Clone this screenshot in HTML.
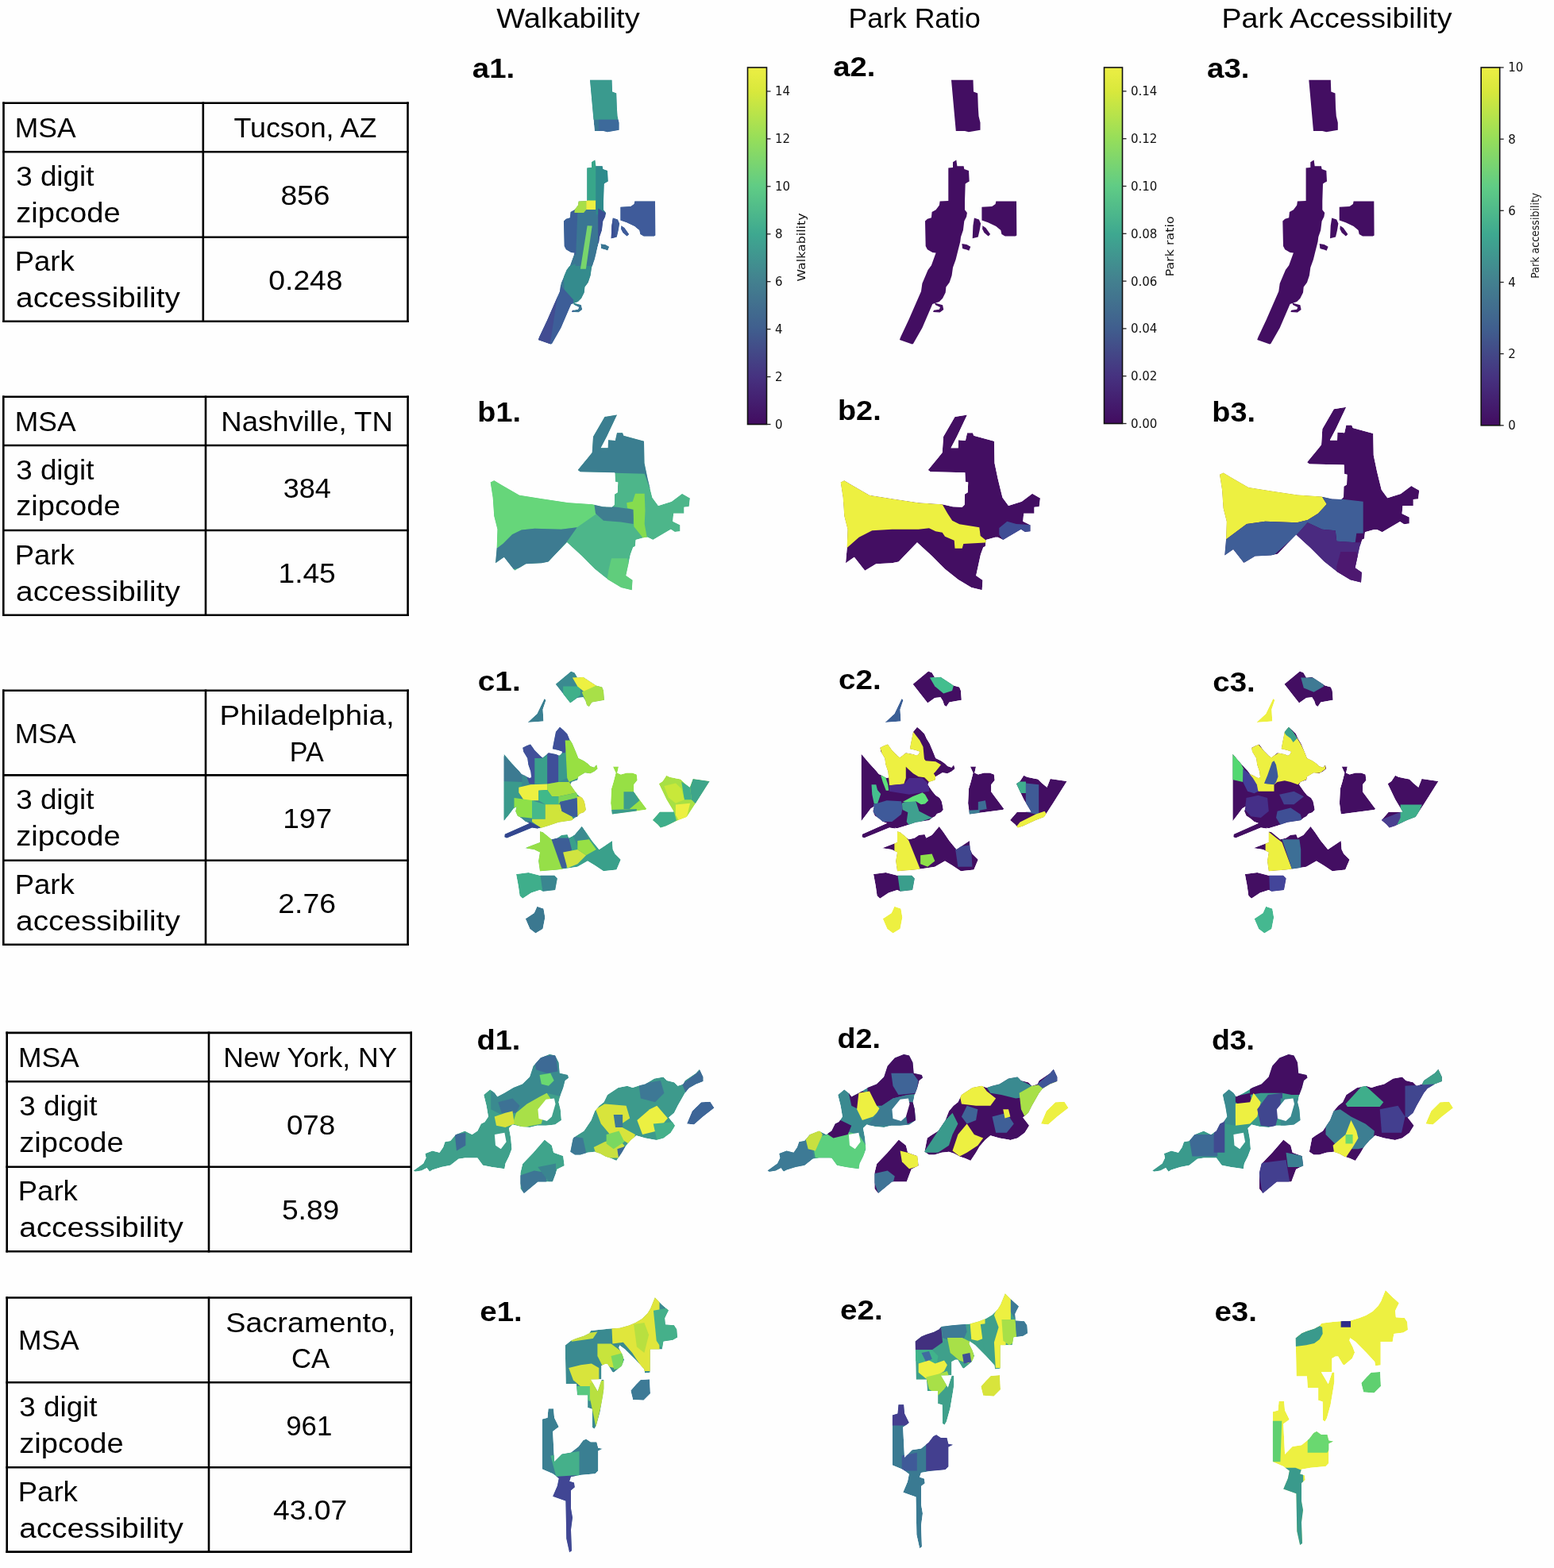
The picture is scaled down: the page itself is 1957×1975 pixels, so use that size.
<!DOCTYPE html>
<html><head><meta charset="utf-8"><title>Figure</title>
<style>html,body{margin:0;padding:0;background:#fefefe;} svg{display:block;}</style>
</head><body>
<svg width="1957" height="1975" viewBox="0 0 1957 1975" font-family="'Liberation Sans', Arial, sans-serif"><rect x="0" y="0" width="1957" height="1975" fill="#fefefe"/><text x="625.3" y="35.3" font-size="35" font-weight="normal" text-anchor="start" textLength="180.4" lengthAdjust="spacingAndGlyphs" >Walkability</text>
<text x="1068.5" y="35.0" font-size="35" font-weight="normal" text-anchor="start" textLength="166.3" lengthAdjust="spacingAndGlyphs" >Park Ratio</text>
<text x="1538.5" y="35.3" font-size="35" font-weight="normal" text-anchor="start" textLength="290.1" lengthAdjust="spacingAndGlyphs" >Park Accessibility</text>
<line x1="3.2" y1="129.8" x2="514.8" y2="129.8" stroke="#000" stroke-width="2.6"/>
<line x1="3.2" y1="191.3" x2="514.8" y2="191.3" stroke="#000" stroke-width="2.6"/>
<line x1="3.2" y1="298.8" x2="514.8" y2="298.8" stroke="#000" stroke-width="2.6"/>
<line x1="3.2" y1="404.8" x2="514.8" y2="404.8" stroke="#000" stroke-width="2.6"/>
<line x1="4.5" y1="128.5" x2="4.5" y2="406.1" stroke="#000" stroke-width="2.6"/>
<line x1="255.8" y1="128.5" x2="255.8" y2="406.1" stroke="#000" stroke-width="2.6"/>
<line x1="513.5" y1="128.5" x2="513.5" y2="406.1" stroke="#000" stroke-width="2.6"/>
<text x="18.8" y="173.1" font-size="35.5" font-weight="normal" text-anchor="start" textLength="76.8" lengthAdjust="spacingAndGlyphs" >MSA</text>
<text x="294.4" y="173.1" font-size="35.5" font-weight="normal" text-anchor="start" textLength="179.9" lengthAdjust="spacingAndGlyphs" >Tucson, AZ</text>
<text x="20.2" y="234.2" font-size="35.5" font-weight="normal" text-anchor="start" textLength="98.2" lengthAdjust="spacingAndGlyphs" >3 digit</text>
<text x="20.2" y="279.9" font-size="35.5" font-weight="normal" text-anchor="start" textLength="131.5" lengthAdjust="spacingAndGlyphs" >zipcode</text>
<text x="353.4" y="257.9" font-size="35.5" font-weight="normal" text-anchor="start" textLength="62.2" lengthAdjust="spacingAndGlyphs" >856</text>
<text x="18.7" y="341.0" font-size="35.5" font-weight="normal" text-anchor="start" textLength="75.0" lengthAdjust="spacingAndGlyphs" >Park</text>
<text x="20.1" y="387.2" font-size="35.5" font-weight="normal" text-anchor="start" textLength="206.7" lengthAdjust="spacingAndGlyphs" >accessibility</text>
<text x="338.3" y="364.7" font-size="35.5" font-weight="normal" text-anchor="start" textLength="93.3" lengthAdjust="spacingAndGlyphs" >0.248</text>
<line x1="3.0" y1="499.8" x2="514.9" y2="499.8" stroke="#000" stroke-width="2.6"/>
<line x1="3.0" y1="561.0" x2="514.9" y2="561.0" stroke="#000" stroke-width="2.6"/>
<line x1="3.0" y1="668.0" x2="514.9" y2="668.0" stroke="#000" stroke-width="2.6"/>
<line x1="3.0" y1="774.8" x2="514.9" y2="774.8" stroke="#000" stroke-width="2.6"/>
<line x1="4.3" y1="498.5" x2="4.3" y2="776.1" stroke="#000" stroke-width="2.6"/>
<line x1="259.0" y1="498.5" x2="259.0" y2="776.1" stroke="#000" stroke-width="2.6"/>
<line x1="513.6" y1="498.5" x2="513.6" y2="776.1" stroke="#000" stroke-width="2.6"/>
<text x="18.8" y="542.9" font-size="35.5" font-weight="normal" text-anchor="start" textLength="76.8" lengthAdjust="spacingAndGlyphs" >MSA</text>
<text x="278.3" y="542.9" font-size="35.5" font-weight="normal" text-anchor="start" textLength="216.5" lengthAdjust="spacingAndGlyphs" >Nashville, TN</text>
<text x="20.2" y="603.7" font-size="35.5" font-weight="normal" text-anchor="start" textLength="98.2" lengthAdjust="spacingAndGlyphs" >3 digit</text>
<text x="20.2" y="649.4" font-size="35.5" font-weight="normal" text-anchor="start" textLength="131.5" lengthAdjust="spacingAndGlyphs" >zipcode</text>
<text x="356.8" y="627.4" font-size="35.5" font-weight="normal" text-anchor="start" textLength="60.1" lengthAdjust="spacingAndGlyphs" >384</text>
<text x="18.7" y="710.6" font-size="35.5" font-weight="normal" text-anchor="start" textLength="75.0" lengthAdjust="spacingAndGlyphs" >Park</text>
<text x="20.1" y="756.8" font-size="35.5" font-weight="normal" text-anchor="start" textLength="206.7" lengthAdjust="spacingAndGlyphs" >accessibility</text>
<text x="350.5" y="734.3" font-size="35.5" font-weight="normal" text-anchor="start" textLength="72.2" lengthAdjust="spacingAndGlyphs" >1.45</text>
<line x1="3.0" y1="869.8" x2="514.9" y2="869.8" stroke="#000" stroke-width="2.6"/>
<line x1="3.0" y1="976.4" x2="514.9" y2="976.4" stroke="#000" stroke-width="2.6"/>
<line x1="3.0" y1="1083.7" x2="514.9" y2="1083.7" stroke="#000" stroke-width="2.6"/>
<line x1="3.0" y1="1189.7" x2="514.9" y2="1189.7" stroke="#000" stroke-width="2.6"/>
<line x1="4.3" y1="868.5" x2="4.3" y2="1191.0" stroke="#000" stroke-width="2.6"/>
<line x1="259.0" y1="868.5" x2="259.0" y2="1191.0" stroke="#000" stroke-width="2.6"/>
<line x1="513.6" y1="868.5" x2="513.6" y2="1191.0" stroke="#000" stroke-width="2.6"/>
<text x="18.8" y="935.6" font-size="35.5" font-weight="normal" text-anchor="start" textLength="76.8" lengthAdjust="spacingAndGlyphs" >MSA</text>
<text x="276.5" y="912.9" font-size="35.5" font-weight="normal" text-anchor="start" textLength="220.1" lengthAdjust="spacingAndGlyphs" >Philadelphia,</text>
<text x="364.8" y="958.6" font-size="35.5" font-weight="normal" text-anchor="start" textLength="43.0" lengthAdjust="spacingAndGlyphs" >PA</text>
<text x="20.2" y="1019.2" font-size="35.5" font-weight="normal" text-anchor="start" textLength="98.2" lengthAdjust="spacingAndGlyphs" >3 digit</text>
<text x="20.2" y="1065.0" font-size="35.5" font-weight="normal" text-anchor="start" textLength="131.5" lengthAdjust="spacingAndGlyphs" >zipcode</text>
<text x="356.2" y="1043.0" font-size="35.5" font-weight="normal" text-anchor="start" textLength="61.9" lengthAdjust="spacingAndGlyphs" >197</text>
<text x="18.7" y="1125.9" font-size="35.5" font-weight="normal" text-anchor="start" textLength="75.0" lengthAdjust="spacingAndGlyphs" >Park</text>
<text x="20.1" y="1172.1" font-size="35.5" font-weight="normal" text-anchor="start" textLength="206.7" lengthAdjust="spacingAndGlyphs" >accessibility</text>
<text x="350.3" y="1149.6" font-size="35.5" font-weight="normal" text-anchor="start" textLength="72.7" lengthAdjust="spacingAndGlyphs" >2.76</text>
<line x1="7.4" y1="1300.9" x2="519.0" y2="1300.9" stroke="#000" stroke-width="2.6"/>
<line x1="7.4" y1="1362.3" x2="519.0" y2="1362.3" stroke="#000" stroke-width="2.6"/>
<line x1="7.4" y1="1469.7" x2="519.0" y2="1469.7" stroke="#000" stroke-width="2.6"/>
<line x1="7.4" y1="1576.2" x2="519.0" y2="1576.2" stroke="#000" stroke-width="2.6"/>
<line x1="8.7" y1="1299.6" x2="8.7" y2="1577.5" stroke="#000" stroke-width="2.6"/>
<line x1="263.0" y1="1299.6" x2="263.0" y2="1577.5" stroke="#000" stroke-width="2.6"/>
<line x1="517.7" y1="1299.6" x2="517.7" y2="1577.5" stroke="#000" stroke-width="2.6"/>
<text x="22.9" y="1344.1" font-size="35.5" font-weight="normal" text-anchor="start" textLength="76.8" lengthAdjust="spacingAndGlyphs" >MSA</text>
<text x="281.2" y="1344.1" font-size="35.5" font-weight="normal" text-anchor="start" textLength="219.1" lengthAdjust="spacingAndGlyphs" >New York, NY</text>
<text x="24.3" y="1405.2" font-size="35.5" font-weight="normal" text-anchor="start" textLength="98.2" lengthAdjust="spacingAndGlyphs" >3 digit</text>
<text x="24.3" y="1450.9" font-size="35.5" font-weight="normal" text-anchor="start" textLength="131.5" lengthAdjust="spacingAndGlyphs" >zipcode</text>
<text x="360.9" y="1428.9" font-size="35.5" font-weight="normal" text-anchor="start" textLength="61.3" lengthAdjust="spacingAndGlyphs" >078</text>
<text x="22.8" y="1512.2" font-size="35.5" font-weight="normal" text-anchor="start" textLength="75.0" lengthAdjust="spacingAndGlyphs" >Park</text>
<text x="24.2" y="1558.4" font-size="35.5" font-weight="normal" text-anchor="start" textLength="206.7" lengthAdjust="spacingAndGlyphs" >accessibility</text>
<text x="354.9" y="1535.9" font-size="35.5" font-weight="normal" text-anchor="start" textLength="72.4" lengthAdjust="spacingAndGlyphs" >5.89</text>
<line x1="7.4" y1="1634.5" x2="519.0" y2="1634.5" stroke="#000" stroke-width="2.6"/>
<line x1="7.4" y1="1741.3" x2="519.0" y2="1741.3" stroke="#000" stroke-width="2.6"/>
<line x1="7.4" y1="1848.3" x2="519.0" y2="1848.3" stroke="#000" stroke-width="2.6"/>
<line x1="7.4" y1="1954.6" x2="519.0" y2="1954.6" stroke="#000" stroke-width="2.6"/>
<line x1="8.7" y1="1633.2" x2="8.7" y2="1955.9" stroke="#000" stroke-width="2.6"/>
<line x1="263.0" y1="1633.2" x2="263.0" y2="1955.9" stroke="#000" stroke-width="2.6"/>
<line x1="517.7" y1="1633.2" x2="517.7" y2="1955.9" stroke="#000" stroke-width="2.6"/>
<text x="22.9" y="1700.4" font-size="35.5" font-weight="normal" text-anchor="start" textLength="76.8" lengthAdjust="spacingAndGlyphs" >MSA</text>
<text x="284.2" y="1677.7" font-size="35.5" font-weight="normal" text-anchor="start" textLength="214.3" lengthAdjust="spacingAndGlyphs" >Sacramento,</text>
<text x="366.9" y="1723.4" font-size="35.5" font-weight="normal" text-anchor="start" textLength="48.1" lengthAdjust="spacingAndGlyphs" >CA</text>
<text x="24.3" y="1784.0" font-size="35.5" font-weight="normal" text-anchor="start" textLength="98.2" lengthAdjust="spacingAndGlyphs" >3 digit</text>
<text x="24.3" y="1829.7" font-size="35.5" font-weight="normal" text-anchor="start" textLength="131.5" lengthAdjust="spacingAndGlyphs" >zipcode</text>
<text x="360.2" y="1807.7" font-size="35.5" font-weight="normal" text-anchor="start" textLength="58.1" lengthAdjust="spacingAndGlyphs" >961</text>
<text x="22.8" y="1890.6" font-size="35.5" font-weight="normal" text-anchor="start" textLength="75.0" lengthAdjust="spacingAndGlyphs" >Park</text>
<text x="24.2" y="1936.8" font-size="35.5" font-weight="normal" text-anchor="start" textLength="206.7" lengthAdjust="spacingAndGlyphs" >accessibility</text>
<text x="344.0" y="1914.3" font-size="35.5" font-weight="normal" text-anchor="start" textLength="93.3" lengthAdjust="spacingAndGlyphs" >43.07</text>
<text x="594.8" y="97.6" font-size="35" font-weight="bold" text-anchor="start" textLength="53.4" lengthAdjust="spacingAndGlyphs" >a1.</text>
<text x="1049.3" y="95.8" font-size="35" font-weight="bold" text-anchor="start" textLength="53.1" lengthAdjust="spacingAndGlyphs" >a2.</text>
<text x="1520.1" y="97.6" font-size="35" font-weight="bold" text-anchor="start" textLength="53.3" lengthAdjust="spacingAndGlyphs" >a3.</text>
<text x="601.3" y="531.3" font-size="35" font-weight="bold" text-anchor="start" textLength="54.6" lengthAdjust="spacingAndGlyphs" >b1.</text>
<text x="1055.0" y="529.4" font-size="35" font-weight="bold" text-anchor="start" textLength="54.7" lengthAdjust="spacingAndGlyphs" >b2.</text>
<text x="1526.3" y="531.3" font-size="35" font-weight="bold" text-anchor="start" textLength="54.7" lengthAdjust="spacingAndGlyphs" >b3.</text>
<text x="601.8" y="870.0" font-size="35" font-weight="bold" text-anchor="start" textLength="53.9" lengthAdjust="spacingAndGlyphs" >c1.</text>
<text x="1056.0" y="868.4" font-size="35" font-weight="bold" text-anchor="start" textLength="53.6" lengthAdjust="spacingAndGlyphs" >c2.</text>
<text x="1527.3" y="870.5" font-size="35" font-weight="bold" text-anchor="start" textLength="53.5" lengthAdjust="spacingAndGlyphs" >c3.</text>
<text x="600.4" y="1321.6" font-size="35" font-weight="bold" text-anchor="start" textLength="55.0" lengthAdjust="spacingAndGlyphs" >d1.</text>
<text x="1054.6" y="1320.0" font-size="35" font-weight="bold" text-anchor="start" textLength="54.4" lengthAdjust="spacingAndGlyphs" >d2.</text>
<text x="1525.9" y="1321.5" font-size="35" font-weight="bold" text-anchor="start" textLength="54.1" lengthAdjust="spacingAndGlyphs" >d3.</text>
<text x="604.2" y="1663.7" font-size="35" font-weight="bold" text-anchor="start" textLength="53.6" lengthAdjust="spacingAndGlyphs" >e1.</text>
<text x="1058.1" y="1661.8" font-size="35" font-weight="bold" text-anchor="start" textLength="53.6" lengthAdjust="spacingAndGlyphs" >e2.</text>
<text x="1529.4" y="1663.6" font-size="35" font-weight="bold" text-anchor="start" textLength="53.5" lengthAdjust="spacingAndGlyphs" >e3.</text>
<defs><linearGradient id="vir" x1="0" y1="0" x2="0" y2="1"><stop offset="0" stop-color="#ecee44"/><stop offset="0.067" stop-color="#d8e83c"/><stop offset="0.2" stop-color="#96de5a"/><stop offset="0.333" stop-color="#60cc85"/><stop offset="0.467" stop-color="#3ea890"/><stop offset="0.6" stop-color="#43808f"/><stop offset="0.733" stop-color="#405e8e"/><stop offset="0.867" stop-color="#463280"/><stop offset="1.0" stop-color="#420c60"/></linearGradient></defs>
<rect x="941.5" y="85.0" width="24.0" height="449.5" fill="url(#vir)" stroke="#111" stroke-width="1.6"/>
<line x1="965.5" y1="534.5" x2="970.5" y2="534.5" stroke="#222" stroke-width="1.3"/>
<text x="976.0" y="539.9" font-size="15" font-weight="normal" text-anchor="start" font-family="DejaVu Sans, sans-serif" fill="#111">0</text>
<line x1="965.5" y1="474.6" x2="970.5" y2="474.6" stroke="#222" stroke-width="1.3"/>
<text x="976.0" y="480.0" font-size="15" font-weight="normal" text-anchor="start" font-family="DejaVu Sans, sans-serif" fill="#111">2</text>
<line x1="965.5" y1="414.6" x2="970.5" y2="414.6" stroke="#222" stroke-width="1.3"/>
<text x="976.0" y="420.0" font-size="15" font-weight="normal" text-anchor="start" font-family="DejaVu Sans, sans-serif" fill="#111">4</text>
<line x1="965.5" y1="354.7" x2="970.5" y2="354.7" stroke="#222" stroke-width="1.3"/>
<text x="976.0" y="360.1" font-size="15" font-weight="normal" text-anchor="start" font-family="DejaVu Sans, sans-serif" fill="#111">6</text>
<line x1="965.5" y1="294.8" x2="970.5" y2="294.8" stroke="#222" stroke-width="1.3"/>
<text x="976.0" y="300.2" font-size="15" font-weight="normal" text-anchor="start" font-family="DejaVu Sans, sans-serif" fill="#111">8</text>
<line x1="965.5" y1="234.8" x2="970.5" y2="234.8" stroke="#222" stroke-width="1.3"/>
<text x="976.0" y="240.2" font-size="15" font-weight="normal" text-anchor="start" font-family="DejaVu Sans, sans-serif" fill="#111">10</text>
<line x1="965.5" y1="174.9" x2="970.5" y2="174.9" stroke="#222" stroke-width="1.3"/>
<text x="976.0" y="180.3" font-size="15" font-weight="normal" text-anchor="start" font-family="DejaVu Sans, sans-serif" fill="#111">12</text>
<line x1="965.5" y1="115.0" x2="970.5" y2="115.0" stroke="#222" stroke-width="1.3"/>
<text x="976.0" y="120.4" font-size="15" font-weight="normal" text-anchor="start" font-family="DejaVu Sans, sans-serif" fill="#111">14</text>
<text x="0" y="0" font-size="14" font-family="DejaVu Sans, sans-serif" fill="#111" text-anchor="middle" textLength="86" lengthAdjust="spacingAndGlyphs" transform="translate(1013.5,311.5) rotate(-90)">Walkability</text>
<rect x="1390.5" y="85.0" width="23.0" height="448.5" fill="url(#vir)" stroke="#111" stroke-width="1.6"/>
<line x1="1413.5" y1="533.5" x2="1418.5" y2="533.5" stroke="#222" stroke-width="1.3"/>
<text x="1424.0" y="538.9" font-size="15" font-weight="normal" text-anchor="start" font-family="DejaVu Sans, sans-serif" fill="#111">0.00</text>
<line x1="1413.5" y1="473.7" x2="1418.5" y2="473.7" stroke="#222" stroke-width="1.3"/>
<text x="1424.0" y="479.1" font-size="15" font-weight="normal" text-anchor="start" font-family="DejaVu Sans, sans-serif" fill="#111">0.02</text>
<line x1="1413.5" y1="413.9" x2="1418.5" y2="413.9" stroke="#222" stroke-width="1.3"/>
<text x="1424.0" y="419.3" font-size="15" font-weight="normal" text-anchor="start" font-family="DejaVu Sans, sans-serif" fill="#111">0.04</text>
<line x1="1413.5" y1="354.1" x2="1418.5" y2="354.1" stroke="#222" stroke-width="1.3"/>
<text x="1424.0" y="359.5" font-size="15" font-weight="normal" text-anchor="start" font-family="DejaVu Sans, sans-serif" fill="#111">0.06</text>
<line x1="1413.5" y1="294.3" x2="1418.5" y2="294.3" stroke="#222" stroke-width="1.3"/>
<text x="1424.0" y="299.7" font-size="15" font-weight="normal" text-anchor="start" font-family="DejaVu Sans, sans-serif" fill="#111">0.08</text>
<line x1="1413.5" y1="234.5" x2="1418.5" y2="234.5" stroke="#222" stroke-width="1.3"/>
<text x="1424.0" y="239.9" font-size="15" font-weight="normal" text-anchor="start" font-family="DejaVu Sans, sans-serif" fill="#111">0.10</text>
<line x1="1413.5" y1="174.7" x2="1418.5" y2="174.7" stroke="#222" stroke-width="1.3"/>
<text x="1424.0" y="180.1" font-size="15" font-weight="normal" text-anchor="start" font-family="DejaVu Sans, sans-serif" fill="#111">0.12</text>
<line x1="1413.5" y1="114.9" x2="1418.5" y2="114.9" stroke="#222" stroke-width="1.3"/>
<text x="1424.0" y="120.3" font-size="15" font-weight="normal" text-anchor="start" font-family="DejaVu Sans, sans-serif" fill="#111">0.14</text>
<text x="0" y="0" font-size="14" font-family="DejaVu Sans, sans-serif" fill="#111" text-anchor="middle" textLength="76" lengthAdjust="spacingAndGlyphs" transform="translate(1478,310.3) rotate(-90)">Park ratio</text>
<rect x="1865.2" y="85.0" width="23.5" height="450.79999999999995" fill="url(#vir)" stroke="#111" stroke-width="1.6"/>
<line x1="1888.7" y1="535.8" x2="1893.7" y2="535.8" stroke="#222" stroke-width="1.3"/>
<text x="1899.2" y="541.2" font-size="15" font-weight="normal" text-anchor="start" font-family="DejaVu Sans, sans-serif" fill="#111">0</text>
<line x1="1888.7" y1="445.6" x2="1893.7" y2="445.6" stroke="#222" stroke-width="1.3"/>
<text x="1899.2" y="451.0" font-size="15" font-weight="normal" text-anchor="start" font-family="DejaVu Sans, sans-serif" fill="#111">2</text>
<line x1="1888.7" y1="355.5" x2="1893.7" y2="355.5" stroke="#222" stroke-width="1.3"/>
<text x="1899.2" y="360.9" font-size="15" font-weight="normal" text-anchor="start" font-family="DejaVu Sans, sans-serif" fill="#111">4</text>
<line x1="1888.7" y1="265.3" x2="1893.7" y2="265.3" stroke="#222" stroke-width="1.3"/>
<text x="1899.2" y="270.7" font-size="15" font-weight="normal" text-anchor="start" font-family="DejaVu Sans, sans-serif" fill="#111">6</text>
<line x1="1888.7" y1="175.2" x2="1893.7" y2="175.2" stroke="#222" stroke-width="1.3"/>
<text x="1899.2" y="180.6" font-size="15" font-weight="normal" text-anchor="start" font-family="DejaVu Sans, sans-serif" fill="#111">8</text>
<line x1="1888.7" y1="85.0" x2="1893.7" y2="85.0" stroke="#222" stroke-width="1.3"/>
<text x="1899.2" y="90.4" font-size="15" font-weight="normal" text-anchor="start" font-family="DejaVu Sans, sans-serif" fill="#111">10</text>
<text x="0" y="0" font-size="14" font-family="DejaVu Sans, sans-serif" fill="#111" text-anchor="middle" textLength="108" lengthAdjust="spacingAndGlyphs" transform="translate(1937.7,296.7) rotate(-90)">Park accessibility</text>
<path d="M1198.0,100.8 1225.5,100.8 1226.0,115.5 1231.2,117.5 1231.8,135.0 1232.5,146.2 1234.5,154.5 1234.5,163.8 1220.0,166.2 1215.0,165.0 1203.8,165.0ZM1200.0,204.3 1204.3,201.4 1205.4,209.3 1213.6,209.3 1214.3,212.9 1220.0,215.0 1220.7,228.6 1217.9,230.0 1215.7,231.4 1215.0,252.9 1215.0,264.3 1217.9,267.9 1217.1,272.9 1214.3,278.6 1212.9,290.0 1210.0,298.6 1209.3,304.3 1207.1,312.9 1205.7,318.6 1203.6,327.1 1200.0,337.1 1198.6,347.1 1195.7,355.7 1191.4,361.4 1190.7,368.6 1187.1,375.7 1182.9,380.0 1174.3,382.9 1161.4,412.9 1150.0,432.9 1148.6,433.6 1132.9,427.9 1134.3,424.3 1144.3,402.9 1160.0,367.1 1161.4,357.1 1168.6,340.0 1172.9,334.3 1178.6,318.6 1174.3,317.9 1167.9,314.3 1165.7,310.0 1165.0,278.6 1167.9,275.7 1172.9,274.3 1173.6,267.1 1178.6,264.3 1182.9,258.6 1183.6,253.6 1194.3,252.9 1194.3,211.4 1200.0,211.1ZM1177.1,381.4 1187.1,384.3 1188.3,390.0 1183.6,393.6 1175.0,393.1 1176.0,390.7 1182.9,389.7 1184.0,386.9 1177.9,384.0ZM1236.4,260.7 1249.3,260.0 1253.6,257.1 1254.3,253.6 1280.0,253.6 1280.3,296.4 1278.6,297.4 1265.7,297.4 1261.4,295.0 1260.3,290.0 1254.3,285.0 1244.3,280.3 1236.4,277.4ZM1226.9,274.6 1232.9,276.4 1235.1,281.4 1233.7,290.0 1231.7,298.6 1224.7,300.3 1225.4,284.3ZM1237.4,284.3 1241.4,287.1 1247.1,295.0 1244.6,297.4 1239.4,293.1 1237.1,288.6ZM1211.4,307.1 1217.4,307.9 1222.3,310.7 1220.3,315.7 1217.4,314.6 1214.3,313.7 1212.1,313.1Z" fill="#430e62"/>
<path d="M1648.3,100.8 1675.8,100.8 1676.3,115.5 1681.5,117.5 1682.0,135.0 1682.8,146.2 1684.8,154.5 1684.8,163.8 1670.3,166.2 1665.3,165.0 1654.0,165.0ZM1650.3,204.3 1654.6,201.4 1655.7,209.3 1663.9,209.3 1664.6,212.9 1670.3,215.0 1671.0,228.6 1668.2,230.0 1666.0,231.4 1665.3,252.9 1665.3,264.3 1668.2,267.9 1667.4,272.9 1664.6,278.6 1663.2,290.0 1660.3,298.6 1659.6,304.3 1657.4,312.9 1656.0,318.6 1653.9,327.1 1650.3,337.1 1648.9,347.1 1646.0,355.7 1641.7,361.4 1641.0,368.6 1637.4,375.7 1633.2,380.0 1624.6,382.9 1611.7,412.9 1600.3,432.9 1598.9,433.6 1583.2,427.9 1584.6,424.3 1594.6,402.9 1610.3,367.1 1611.7,357.1 1618.9,340.0 1623.2,334.3 1628.9,318.6 1624.6,317.9 1618.2,314.3 1616.0,310.0 1615.3,278.6 1618.2,275.7 1623.2,274.3 1623.9,267.1 1628.9,264.3 1633.2,258.6 1633.9,253.6 1644.6,252.9 1644.6,211.4 1650.3,211.1ZM1627.4,381.4 1637.4,384.3 1638.6,390.0 1633.9,393.6 1625.3,393.1 1626.3,390.7 1633.2,389.7 1634.3,386.9 1628.2,384.0ZM1686.7,260.7 1699.6,260.0 1703.9,257.1 1704.6,253.6 1730.3,253.6 1730.6,296.4 1728.9,297.4 1716.0,297.4 1711.7,295.0 1710.6,290.0 1704.6,285.0 1694.6,280.3 1686.7,277.4ZM1677.2,274.6 1683.2,276.4 1685.4,281.4 1684.0,290.0 1682.0,298.6 1675.0,300.3 1675.7,284.3ZM1687.7,284.3 1691.7,287.1 1697.4,295.0 1694.9,297.4 1689.7,293.1 1687.4,288.6ZM1661.7,307.1 1667.7,307.9 1672.6,310.7 1670.6,315.7 1667.7,314.6 1664.6,313.7 1662.4,313.1Z" fill="#430e62"/>
<clipPath id="c1"><path d="M743.0,100.8 770.5,100.8 771.0,115.5 776.2,117.5 776.8,135.0 777.5,146.2 779.5,154.5 779.5,163.8 765.0,166.2 760.0,165.0 748.8,165.0ZM745.0,204.3 749.3,201.4 750.4,209.3 758.6,209.3 759.3,212.9 765.0,215.0 765.7,228.6 762.9,230.0 760.7,231.4 760.0,252.9 760.0,264.3 762.9,267.9 762.1,272.9 759.3,278.6 757.9,290.0 755.0,298.6 754.3,304.3 752.1,312.9 750.7,318.6 748.6,327.1 745.0,337.1 743.6,347.1 740.7,355.7 736.4,361.4 735.7,368.6 732.1,375.7 727.9,380.0 719.3,382.9 706.4,412.9 695.0,432.9 693.6,433.6 677.9,427.9 679.3,424.3 689.3,402.9 705.0,367.1 706.4,357.1 713.6,340.0 717.9,334.3 723.6,318.6 719.3,317.9 712.9,314.3 710.7,310.0 710.0,278.6 712.9,275.7 717.9,274.3 718.6,267.1 723.6,264.3 727.9,258.6 728.6,253.6 739.3,252.9 739.3,211.4 745.0,211.1ZM722.1,381.4 732.1,384.3 733.3,390.0 728.6,393.6 720.0,393.1 721.0,390.7 727.9,389.7 729.0,386.9 722.9,384.0ZM781.4,260.7 794.3,260.0 798.6,257.1 799.3,253.6 825.0,253.6 825.3,296.4 823.6,297.4 810.7,297.4 806.4,295.0 805.3,290.0 799.3,285.0 789.3,280.3 781.4,277.4ZM771.9,274.6 777.9,276.4 780.1,281.4 778.7,290.0 776.7,298.6 769.7,300.3 770.4,284.3ZM782.4,284.3 786.4,287.1 792.1,295.0 789.6,297.4 784.4,293.1 782.1,288.6ZM756.4,307.1 762.4,307.9 767.3,310.7 765.3,315.7 762.4,314.6 759.3,313.7 757.1,313.1Z"/></clipPath>
<g clip-path="url(#c1)">
<path d="M743.0,100.8 770.5,100.8 771.0,115.5 776.2,117.5 776.8,135.0 777.5,146.2 779.5,154.5 779.5,163.8 765.0,166.2 760.0,165.0 748.8,165.0ZM745.0,204.3 749.3,201.4 750.4,209.3 758.6,209.3 759.3,212.9 765.0,215.0 765.7,228.6 762.9,230.0 760.7,231.4 760.0,252.9 760.0,264.3 762.9,267.9 762.1,272.9 759.3,278.6 757.9,290.0 755.0,298.6 754.3,304.3 752.1,312.9 750.7,318.6 748.6,327.1 745.0,337.1 743.6,347.1 740.7,355.7 736.4,361.4 735.7,368.6 732.1,375.7 727.9,380.0 719.3,382.9 706.4,412.9 695.0,432.9 693.6,433.6 677.9,427.9 679.3,424.3 689.3,402.9 705.0,367.1 706.4,357.1 713.6,340.0 717.9,334.3 723.6,318.6 719.3,317.9 712.9,314.3 710.7,310.0 710.0,278.6 712.9,275.7 717.9,274.3 718.6,267.1 723.6,264.3 727.9,258.6 728.6,253.6 739.3,252.9 739.3,211.4 745.0,211.1ZM722.1,381.4 732.1,384.3 733.3,390.0 728.6,393.6 720.0,393.1 721.0,390.7 727.9,389.7 729.0,386.9 722.9,384.0ZM781.4,260.7 794.3,260.0 798.6,257.1 799.3,253.6 825.0,253.6 825.3,296.4 823.6,297.4 810.7,297.4 806.4,295.0 805.3,290.0 799.3,285.0 789.3,280.3 781.4,277.4ZM771.9,274.6 777.9,276.4 780.1,281.4 778.7,290.0 776.7,298.6 769.7,300.3 770.4,284.3ZM782.4,284.3 786.4,287.1 792.1,295.0 789.6,297.4 784.4,293.1 782.1,288.6ZM756.4,307.1 762.4,307.9 767.3,310.7 765.3,315.7 762.4,314.6 759.3,313.7 757.1,313.1Z" fill="#3a7693"/>
<path d="M724.7,332.3 750.6,332.3 750.6,384.1 711.8,384.1 709.2,338.8Z" fill="#348b8d"/>
<path d="M672.9,351.7 698.8,351.7 722.1,377.6 722.1,435.9 672.9,435.9Z" fill="#3d5e98"/>
<path d="M675.5,410.0 693.6,364.7 702.7,368.6 692.3,435.9 672.9,435.9Z" fill="#424c92"/>
<path d="M709.2,262.5 728.6,262.5 729.9,320.7 709.2,320.7Z" fill="#3b5f97"/>
<path d="M727.3,267.6 753.2,267.6 750.6,334.9 724.7,334.9Z" fill="#3a7693"/>
<path d="M737.6,197.8 750.6,197.8 750.6,253.4 737.6,253.4Z" fill="#38a68a"/>
<path d="M750.6,197.8 767.4,197.8 767.4,270.2 750.6,270.2Z" fill="#2e8b8c"/>
<path d="M724.7,253.4 738.4,252.6 738.4,264.0 735.1,267.9 723.4,267.9Z" fill="#a7de48"/>
<path d="M738.2,252.6 750.1,252.6 750.1,264.0 738.2,264.0Z" fill="#edf041"/>
<path d="M739.6,284.2 745.7,284.5 737.9,338.8 730.9,338.8Z" fill="#78d56c"/>
<path d="M766.1,241.8 828.2,241.8 828.2,306.5 766.1,306.5Z" fill="#3f5b9a"/>
<path d="M753.2,262.5 771.3,272.8 776.5,306.5 753.2,306.5Z" fill="#3a4f93"/>
<path d="M729.0,97.3 778.7,97.3 778.7,150.7 729.0,150.7Z" fill="#3a9a8e"/>
<path d="M753.9,150.7 781.2,150.7 781.2,169.3 753.9,169.3Z" fill="#3d6a9b"/>
</g>
<clipPath id="c2"><path d="M1202.5,525.0 1218.0,522.5 1205.0,550.0 1197.5,564.2 1206.7,564.2 1207.0,554.2 1215.8,555.0 1218.0,545.3 1225.0,545.3 1226.3,548.7 1252.0,555.8 1252.5,583.3 1256.7,603.3 1260.0,616.7 1262.5,626.7 1270.0,637.0 1286.7,631.7 1300.0,621.7 1310.0,627.5 1308.7,638.3 1302.5,638.7 1302.5,646.7 1289.2,646.7 1288.3,656.7 1297.5,661.3 1297.5,669.2 1290.8,670.0 1285.8,666.7 1263.3,680.0 1256.7,676.7 1253.3,676.7 1241.7,680.0 1240.8,688.3 1238.3,689.2 1235.0,698.3 1229.2,725.0 1237.5,730.8 1236.7,743.3 1223.3,740.0 1206.7,730.0 1190.0,716.7 1173.3,700.0 1155.0,683.3 1131.7,707.5 1123.3,709.2 1103.3,710.3 1089.2,718.7 1075.8,701.7 1065.0,709.2 1066.7,690.0 1067.5,666.7 1063.3,650.0 1061.7,626.7 1058.7,607.5 1063.3,605.3 1073.3,611.3 1095.0,623.7 1123.3,628.3 1156.7,633.3 1186.7,635.3 1200.0,638.3 1211.7,638.7 1214.7,635.8 1215.0,622.5 1218.7,620.3 1219.2,607.5 1215.8,606.7 1215.3,595.3 1171.7,594.2 1168.7,592.0 1181.7,576.3 1186.7,570.0 1188.0,550.0Z"/></clipPath>
<g clip-path="url(#c2)">
<path d="M1202.5,525.0 1218.0,522.5 1205.0,550.0 1197.5,564.2 1206.7,564.2 1207.0,554.2 1215.8,555.0 1218.0,545.3 1225.0,545.3 1226.3,548.7 1252.0,555.8 1252.5,583.3 1256.7,603.3 1260.0,616.7 1262.5,626.7 1270.0,637.0 1286.7,631.7 1300.0,621.7 1310.0,627.5 1308.7,638.3 1302.5,638.7 1302.5,646.7 1289.2,646.7 1288.3,656.7 1297.5,661.3 1297.5,669.2 1290.8,670.0 1285.8,666.7 1263.3,680.0 1256.7,676.7 1253.3,676.7 1241.7,680.0 1240.8,688.3 1238.3,689.2 1235.0,698.3 1229.2,725.0 1237.5,730.8 1236.7,743.3 1223.3,740.0 1206.7,730.0 1190.0,716.7 1173.3,700.0 1155.0,683.3 1131.7,707.5 1123.3,709.2 1103.3,710.3 1089.2,718.7 1075.8,701.7 1065.0,709.2 1066.7,690.0 1067.5,666.7 1063.3,650.0 1061.7,626.7 1058.7,607.5 1063.3,605.3 1073.3,611.3 1095.0,623.7 1123.3,628.3 1156.7,633.3 1186.7,635.3 1200.0,638.3 1211.7,638.7 1214.7,635.8 1215.0,622.5 1218.7,620.3 1219.2,607.5 1215.8,606.7 1215.3,595.3 1171.7,594.2 1168.7,592.0 1181.7,576.3 1186.7,570.0 1188.0,550.0Z" fill="#430e62"/>
<path d="M1050.0,600.0 1063.3,605.3 1073.3,611.3 1095.0,623.7 1123.3,628.3 1156.7,633.3 1186.7,635.3 1193.3,646.7 1199.2,655.8 1208.3,660.3 1233.3,664.2 1234.7,675.0 1245.0,683.3 1213.3,685.0 1211.7,690.8 1202.5,690.8 1201.7,680.8 1190.0,675.8 1186.7,670.8 1178.3,669.2 1170.0,665.3 1156.7,666.7 1123.3,666.7 1098.3,668.3 1081.7,676.7 1066.7,690.0 1050.0,691.7Z" fill="#edf041"/>
<path d="M1258.3,665.0 1268.3,656.7 1280.0,660.0 1300.0,661.3 1300.0,670.0 1290.8,670.8 1285.0,667.5 1263.3,680.8 1258.3,673.3Z" fill="#3f4d95"/>
</g>
<clipPath id="c3"><path d="M761.5,525.0 777.0,522.5 764.0,550.0 756.5,564.2 765.7,564.2 766.0,554.2 774.8,555.0 777.0,545.3 784.0,545.3 785.3,548.7 811.0,555.8 811.5,583.3 815.7,603.3 819.0,616.7 821.5,626.7 829.0,637.0 845.7,631.7 859.0,621.7 869.0,627.5 867.7,638.3 861.5,638.7 861.5,646.7 848.2,646.7 847.3,656.7 856.5,661.3 856.5,669.2 849.8,670.0 844.8,666.7 822.3,680.0 815.7,676.7 812.3,676.7 800.7,680.0 799.8,688.3 797.3,689.2 794.0,698.3 788.2,725.0 796.5,730.8 795.7,743.3 782.3,740.0 765.7,730.0 749.0,716.7 732.3,700.0 714.0,683.3 690.7,707.5 682.3,709.2 662.3,710.3 648.2,718.7 634.8,701.7 624.0,709.2 625.7,690.0 626.5,666.7 622.3,650.0 620.7,626.7 617.7,607.5 622.3,605.3 632.3,611.3 654.0,623.7 682.3,628.3 715.7,633.3 745.7,635.3 759.0,638.3 770.7,638.7 773.7,635.8 774.0,622.5 777.7,620.3 778.2,607.5 774.8,606.7 774.3,595.3 730.7,594.2 727.7,592.0 740.7,576.3 745.7,570.0 747.0,550.0Z"/></clipPath>
<g clip-path="url(#c3)">
<path d="M761.5,525.0 777.0,522.5 764.0,550.0 756.5,564.2 765.7,564.2 766.0,554.2 774.8,555.0 777.0,545.3 784.0,545.3 785.3,548.7 811.0,555.8 811.5,583.3 815.7,603.3 819.0,616.7 821.5,626.7 829.0,637.0 845.7,631.7 859.0,621.7 869.0,627.5 867.7,638.3 861.5,638.7 861.5,646.7 848.2,646.7 847.3,656.7 856.5,661.3 856.5,669.2 849.8,670.0 844.8,666.7 822.3,680.0 815.7,676.7 812.3,676.7 800.7,680.0 799.8,688.3 797.3,689.2 794.0,698.3 788.2,725.0 796.5,730.8 795.7,743.3 782.3,740.0 765.7,730.0 749.0,716.7 732.3,700.0 714.0,683.3 690.7,707.5 682.3,709.2 662.3,710.3 648.2,718.7 634.8,701.7 624.0,709.2 625.7,690.0 626.5,666.7 622.3,650.0 620.7,626.7 617.7,607.5 622.3,605.3 632.3,611.3 654.0,623.7 682.3,628.3 715.7,633.3 745.7,635.3 759.0,638.3 770.7,638.7 773.7,635.8 774.0,622.5 777.7,620.3 778.2,607.5 774.8,606.7 774.3,595.3 730.7,594.2 727.7,592.0 740.7,576.3 745.7,570.0 747.0,550.0Z" fill="#4db68a"/>
<path d="M723.3,516.7 823.3,516.7 823.3,616.7 818.3,615.0 811.7,596.7 775.0,595.8 723.3,595.8Z" fill="#3b7e90"/>
<path d="M606.7,600.0 673.3,600.0 748.3,633.3 751.7,646.7 740.0,655.0 726.7,664.2 706.7,666.7 673.3,665.8 656.7,667.5 645.0,673.3 633.3,685.0 626.7,690.0 606.7,691.7Z" fill="#66d67a"/>
<path d="M606.7,691.7 626.7,690.0 633.3,685.0 645.0,673.3 656.7,667.5 673.3,665.8 706.7,666.7 726.7,664.2 713.3,683.3 690.0,708.3 606.7,725.0Z" fill="#3d7b91"/>
<path d="M748.3,635.0 798.3,641.7 797.5,660.0 781.7,657.5 760.0,655.8 750.0,646.7Z" fill="#3f7e90"/>
<path d="M789.2,633.3 796.7,631.7 800.0,621.7 811.7,621.7 812.5,643.3 811.7,660.0 815.0,678.3 811.7,680.0 798.3,663.3 797.5,641.7 790.0,640.0Z" fill="#86dc4e"/>
<path d="M770.0,703.3 790.0,703.3 800.0,733.3 800.0,746.7 763.3,736.7 766.7,716.7Z" fill="#60cd7c"/>
</g>
<clipPath id="c4"><path d="M1679.8,515.3 1695.3,512.8 1682.3,540.3 1674.8,554.5 1684.0,554.5 1684.3,544.5 1693.1,545.3 1695.3,535.6 1702.3,535.6 1703.6,539.0 1729.3,546.1 1729.8,573.6 1734.0,593.6 1737.3,607.0 1739.8,617.0 1747.3,627.3 1764.0,622.0 1777.3,612.0 1787.3,617.8 1786.0,628.6 1779.8,629.0 1779.8,637.0 1766.5,637.0 1765.6,647.0 1774.8,651.6 1774.8,659.5 1768.1,660.3 1763.1,657.0 1740.6,670.3 1734.0,667.0 1730.6,667.0 1719.0,670.3 1718.1,678.6 1715.6,679.5 1712.3,688.6 1706.5,715.3 1714.8,721.1 1714.0,733.6 1700.6,730.3 1684.0,720.3 1667.3,707.0 1650.6,690.3 1632.3,673.6 1609.0,697.8 1600.6,699.5 1580.6,700.6 1566.5,709.0 1553.1,692.0 1542.3,699.5 1544.0,680.3 1544.8,657.0 1540.6,640.3 1539.0,617.0 1536.0,597.8 1540.6,595.6 1550.6,601.6 1572.3,614.0 1600.6,618.6 1634.0,623.6 1664.0,625.6 1677.3,628.6 1689.0,629.0 1692.0,626.1 1692.3,612.8 1696.0,610.6 1696.5,597.8 1693.1,597.0 1692.6,585.6 1649.0,584.5 1646.0,582.3 1659.0,566.6 1664.0,560.3 1665.3,540.3Z"/></clipPath>
<g clip-path="url(#c4)">
<path d="M1679.8,515.3 1695.3,512.8 1682.3,540.3 1674.8,554.5 1684.0,554.5 1684.3,544.5 1693.1,545.3 1695.3,535.6 1702.3,535.6 1703.6,539.0 1729.3,546.1 1729.8,573.6 1734.0,593.6 1737.3,607.0 1739.8,617.0 1747.3,627.3 1764.0,622.0 1777.3,612.0 1787.3,617.8 1786.0,628.6 1779.8,629.0 1779.8,637.0 1766.5,637.0 1765.6,647.0 1774.8,651.6 1774.8,659.5 1768.1,660.3 1763.1,657.0 1740.6,670.3 1734.0,667.0 1730.6,667.0 1719.0,670.3 1718.1,678.6 1715.6,679.5 1712.3,688.6 1706.5,715.3 1714.8,721.1 1714.0,733.6 1700.6,730.3 1684.0,720.3 1667.3,707.0 1650.6,690.3 1632.3,673.6 1609.0,697.8 1600.6,699.5 1580.6,700.6 1566.5,709.0 1553.1,692.0 1542.3,699.5 1544.0,680.3 1544.8,657.0 1540.6,640.3 1539.0,617.0 1536.0,597.8 1540.6,595.6 1550.6,601.6 1572.3,614.0 1600.6,618.6 1634.0,623.6 1664.0,625.6 1677.3,628.6 1689.0,629.0 1692.0,626.1 1692.3,612.8 1696.0,610.6 1696.5,597.8 1693.1,597.0 1692.6,585.6 1649.0,584.5 1646.0,582.3 1659.0,566.6 1664.0,560.3 1665.3,540.3Z" fill="#430e62"/>
<path d="M1516.7,593.3 1665.0,593.3 1665.0,625.8 1670.8,635.0 1660.0,646.7 1646.7,655.0 1633.3,658.3 1593.3,656.7 1570.0,660.0 1544.2,679.2 1516.7,685.0Z" fill="#edf041"/>
<path d="M1516.7,685.0 1544.2,679.2 1570.0,660.0 1593.3,656.7 1633.3,658.3 1646.7,655.0 1660.0,646.7 1670.8,635.0 1665.0,625.8 1716.7,631.7 1716.7,671.7 1708.3,671.7 1706.7,683.3 1683.3,681.7 1681.7,668.3 1665.0,666.7 1646.7,658.3 1633.3,673.3 1603.3,700.0 1516.7,720.0Z" fill="#3f5e97"/>
<path d="M1633.3,673.3 1646.7,658.3 1665.0,666.7 1681.7,668.3 1683.3,681.7 1706.7,683.3 1716.7,683.3 1720.0,750.0 1633.3,750.0Z" fill="#4a2a80"/>
<path d="M1688.3,695.0 1708.3,695.0 1716.7,716.7 1720.0,750.0 1683.3,750.0 1683.3,713.3Z" fill="#4d1870"/>
</g>
<clipPath id="c5"><path d="M699.6,861.8 719.1,845.5 723.6,847.3 727.3,853.6 734.5,852.7 750.9,863.6 758.2,865.5 760.0,870.0 760.9,881.8 745.5,884.5 741.8,890.0 739.1,888.2 737.3,882.7 734.5,878.2 727.3,879.1 718.2,885.5Z"/></clipPath>
<g clip-path="url(#c5)">
<path d="M699.6,861.8 719.1,845.5 723.6,847.3 727.3,853.6 734.5,852.7 750.9,863.6 758.2,865.5 760.0,870.0 760.9,881.8 745.5,884.5 741.8,890.0 739.1,888.2 737.3,882.7 734.5,878.2 727.3,879.1 718.2,885.5Z" fill="#3a8a90"/>
<path d="M709.1,864.5 730.9,864.5 730.9,875.5 718.2,885.5 709.1,877.3Z" fill="#3fb08a"/>
<path d="M720.9,853.6 734.5,852.7 750.9,863.6 749.1,870.0 738.2,873.6 727.3,864.5Z" fill="#edf041"/>
<path d="M732.7,871.8 750.9,863.6 763.6,865.5 763.6,891.8 738.2,891.8 737.3,882.7Z" fill="#a8e048"/>
</g>
<clipPath id="c6"><path d="M664.5,910.0 676.4,899.1 685.5,880.0 687.6,881.8 683.6,893.6 684.5,908.5Z"/></clipPath>
<g clip-path="url(#c6)">
<path d="M664.5,910.0 676.4,899.1 685.5,880.0 687.6,881.8 683.6,893.6 684.5,908.5Z" fill="#3a7f91"/>
</g>
<clipPath id="c7"><path d="M771.8,965.5 779.1,965.5 777.3,973.6 781.8,975.5 789.1,973.6 796.4,973.6 801.8,975.5 802.7,982.7 798.2,988.2 798.2,997.3 814.5,1019.1 812.7,1020.0 770.9,1025.5 769.1,1011.8 770.0,993.6 772.7,984.5 775.5,973.6Z"/></clipPath>
<g clip-path="url(#c7)">
<path d="M771.8,965.5 779.1,965.5 777.3,973.6 781.8,975.5 789.1,973.6 796.4,973.6 801.8,975.5 802.7,982.7 798.2,988.2 798.2,997.3 814.5,1019.1 812.7,1020.0 770.9,1025.5 769.1,1011.8 770.0,993.6 772.7,984.5 775.5,973.6Z" fill="#97e045"/>
<path d="M785.5,997.3 798.2,997.3 805.5,1008.2 792.7,1019.1 785.5,1019.1Z" fill="#3d9e8c"/>
<path d="M767.3,1020.0 801.8,1019.1 801.8,1028.2 767.3,1028.2Z" fill="#3a9a8c"/>
</g>
<clipPath id="c8"><path d="M829.8,987.3 834.5,984.0 839.3,976.7 843.5,978.7 851.8,980.4 857.1,981.5 862.2,986.5 868.5,991.8 872.7,980.9 893.6,984.0 875.8,1012.2 864.9,1028.9 854.4,1033.1 838.2,1040.5 831.8,1042.5 828.4,1038.4 822.0,1033.1 830.9,1022.7 848.7,1022.7 839.3,1006.9Z"/></clipPath>
<g clip-path="url(#c8)">
<path d="M829.8,987.3 834.5,984.0 839.3,976.7 843.5,978.7 851.8,980.4 857.1,981.5 862.2,986.5 868.5,991.8 872.7,980.9 893.6,984.0 875.8,1012.2 864.9,1028.9 854.4,1033.1 838.2,1040.5 831.8,1042.5 828.4,1038.4 822.0,1033.1 830.9,1022.7 848.7,1022.7 839.3,1006.9Z" fill="#a8e044"/>
<path d="M858.2,984.5 869.1,991.8 870.9,1007.3 861.8,1007.3Z" fill="#3fae8b"/>
<path d="M869.1,991.8 872.7,980.9 894.5,984.0 875.8,1012.2 870.9,1007.3Z" fill="#3ea58a"/>
<path d="M836.4,990.0 850.9,986.4 858.2,993.6 861.8,1007.3 850.9,1011.8 841.8,1004.5Z" fill="#c8e83a"/>
<path d="M850.9,1013.6 869.1,1011.8 864.9,1028.9 854.4,1033.1 850.9,1026.4Z" fill="#ecf042"/>
<path d="M820.0,1033.1 830.9,1021.8 848.7,1021.8 851.8,1033.6 838.2,1041.8 831.8,1043.6Z" fill="#3fae8b"/>
</g>
<clipPath id="c9"><path d="M660.9,1068.2 680.0,1060.9 680.0,1047.3 683.6,1048.2 694.5,1057.3 701.8,1055.5 707.3,1051.8 714.5,1050.9 716.4,1055.5 723.6,1051.8 732.7,1040.9 738.2,1048.2 745.5,1059.1 754.5,1070.0 770.9,1059.1 771.8,1070.0 774.5,1075.5 781.8,1082.7 776.4,1095.5 760.0,1097.3 749.1,1090.0 740.0,1084.5 727.3,1091.8 716.4,1093.6 701.8,1095.5 680.0,1097.3 678.2,1084.5 680.0,1073.6 672.7,1070.0Z"/></clipPath>
<g clip-path="url(#c9)">
<path d="M660.9,1068.2 680.0,1060.9 680.0,1047.3 683.6,1048.2 694.5,1057.3 701.8,1055.5 707.3,1051.8 714.5,1050.9 716.4,1055.5 723.6,1051.8 732.7,1040.9 738.2,1048.2 745.5,1059.1 754.5,1070.0 770.9,1059.1 771.8,1070.0 774.5,1075.5 781.8,1082.7 776.4,1095.5 760.0,1097.3 749.1,1090.0 740.0,1084.5 727.3,1091.8 716.4,1093.6 701.8,1095.5 680.0,1097.3 678.2,1084.5 680.0,1073.6 672.7,1070.0Z" fill="#3aa08b"/>
<path d="M654.5,1046.4 685.5,1046.4 696.4,1057.3 709.1,1095.5 676.4,1099.1Z" fill="#96df48"/>
<path d="M694.5,1057.3 701.8,1055.5 716.4,1055.5 720.0,1070.0 712.7,1093.6 707.3,1093.6Z" fill="#3d5e97"/>
<path d="M709.1,1073.6 727.3,1070.0 738.2,1077.3 727.3,1088.2 714.5,1093.6Z" fill="#d0e440"/>
<path d="M720.0,1048.2 732.7,1039.1 741.8,1057.3 727.3,1066.4Z" fill="#3b8b90"/>
<path d="M727.3,1059.1 741.8,1057.3 750.9,1070.0 738.2,1077.3 727.3,1070.0Z" fill="#98e045"/>
</g>
<clipPath id="c10"><path d="M650.0,1100.9 665.5,1099.1 680.0,1102.7 698.2,1102.7 701.8,1106.4 699.1,1120.9 683.6,1122.7 680.0,1120.9 669.1,1124.5 658.2,1131.8 654.5,1128.2 652.7,1115.5Z"/></clipPath>
<g clip-path="url(#c10)">
<path d="M650.0,1100.9 665.5,1099.1 680.0,1102.7 698.2,1102.7 701.8,1106.4 699.1,1120.9 683.6,1122.7 680.0,1120.9 669.1,1124.5 658.2,1131.8 654.5,1128.2 652.7,1115.5Z" fill="#3fae8b"/>
<path d="M680.0,1099.1 709.1,1099.1 709.1,1124.5 683.6,1124.5Z" fill="#3a8690"/>
</g>
<clipPath id="c11"><path d="M661.8,1157.3 672.7,1150.0 676.4,1141.8 684.5,1144.5 686.4,1155.5 683.6,1170.0 674.5,1175.5 667.3,1170.0Z"/></clipPath>
<g clip-path="url(#c11)">
<path d="M661.8,1157.3 672.7,1150.0 676.4,1141.8 684.5,1144.5 686.4,1155.5 683.6,1170.0 674.5,1175.5 667.3,1170.0Z" fill="#3b7890"/>
</g>
<clipPath id="c12"><path d="M634.6,949.6 645.0,961.7 653.3,970.8 656.7,975.0 660.8,976.7 663.3,978.3 666.7,980.0 669.2,979.2 668.3,971.7 665.4,963.3 664.2,955.0 659.2,946.7 658.3,941.7 663.3,939.2 667.9,937.5 670.4,940.8 673.3,945.0 680.0,951.7 683.3,954.2 690.8,948.3 700.0,950.0 704.2,951.7 706.7,950.0 708.3,946.7 703.3,945.0 695.8,943.3 697.5,934.2 700.0,921.7 705.0,915.8 709.2,919.2 714.2,924.2 716.7,930.0 720.8,936.7 725.0,946.7 728.3,955.0 735.0,958.3 740.0,961.7 743.3,965.0 748.3,966.7 751.2,963.3 752.5,968.3 748.3,971.7 743.3,974.2 736.7,973.3 728.3,978.3 727.5,982.5 720.0,985.0 718.3,988.3 724.2,996.7 728.3,1001.7 733.3,1005.0 735.8,1009.2 736.7,1013.3 737.9,1020.0 735.0,1023.3 730.0,1025.0 727.5,1028.3 724.2,1030.0 720.0,1033.3 703.3,1035.8 690.8,1040.0 680.0,1043.3 671.7,1041.7 666.7,1036.7 661.7,1035.0 656.7,1030.8 651.7,1027.5 649.2,1021.7 650.8,1015.8 646.7,1018.3 641.7,1025.0 634.6,1034.2ZM635.8,1050.8 666.7,1037.1 673.3,1040.0 678.3,1043.8 670.0,1042.5 638.3,1055.4 635.4,1054.2Z"/></clipPath>
<g clip-path="url(#c12)">
<path d="M634.6,949.6 645.0,961.7 653.3,970.8 656.7,975.0 660.8,976.7 663.3,978.3 666.7,980.0 669.2,979.2 668.3,971.7 665.4,963.3 664.2,955.0 659.2,946.7 658.3,941.7 663.3,939.2 667.9,937.5 670.4,940.8 673.3,945.0 680.0,951.7 683.3,954.2 690.8,948.3 700.0,950.0 704.2,951.7 706.7,950.0 708.3,946.7 703.3,945.0 695.8,943.3 697.5,934.2 700.0,921.7 705.0,915.8 709.2,919.2 714.2,924.2 716.7,930.0 720.8,936.7 725.0,946.7 728.3,955.0 735.0,958.3 740.0,961.7 743.3,965.0 748.3,966.7 751.2,963.3 752.5,968.3 748.3,971.7 743.3,974.2 736.7,973.3 728.3,978.3 727.5,982.5 720.0,985.0 718.3,988.3 724.2,996.7 728.3,1001.7 733.3,1005.0 735.8,1009.2 736.7,1013.3 737.9,1020.0 735.0,1023.3 730.0,1025.0 727.5,1028.3 724.2,1030.0 720.0,1033.3 703.3,1035.8 690.8,1040.0 680.0,1043.3 671.7,1041.7 666.7,1036.7 661.7,1035.0 656.7,1030.8 651.7,1027.5 649.2,1021.7 650.8,1015.8 646.7,1018.3 641.7,1025.0 634.6,1034.2ZM635.8,1050.8 666.7,1037.1 673.3,1040.0 678.3,1043.8 670.0,1042.5 638.3,1055.4 635.4,1054.2Z" fill="#3b8a90"/>
<path d="M628.3,946.7 657.5,974.2 657.5,985.0 628.3,984.2Z" fill="#3c7a91"/>
<path d="M628.3,984.2 657.5,985.0 653.3,1015.8 628.3,1038.3Z" fill="#3a9a8c"/>
<path d="M656.7,936.7 671.7,936.7 683.3,955.0 673.3,987.5 666.7,987.5 663.3,978.3 656.7,975.0Z" fill="#41509a"/>
<path d="M673.3,955.0 683.3,955.0 689.2,951.7 689.2,987.5 673.3,987.5Z" fill="#3aa08b"/>
<path d="M689.2,946.7 703.3,950.0 703.3,985.0 689.2,987.5Z" fill="#3f4f99"/>
<path d="M703.3,950.0 712.5,946.7 714.2,980.0 703.3,985.0Z" fill="#3a9a8c"/>
<path d="M693.3,913.3 716.7,913.3 716.7,932.5 711.7,948.3 693.3,948.3Z" fill="#3f4f99"/>
<path d="M711.7,932.5 728.3,932.5 757.5,955.0 757.5,980.0 728.3,980.0 716.7,985.0 714.2,980.0Z" fill="#98e042"/>
<path d="M689.2,987.5 703.3,985.0 716.7,985.0 726.7,998.3 703.3,1003.3 695.0,1003.3 689.2,995.0Z" fill="#a8e040"/>
<path d="M653.3,991.7 668.3,988.3 689.2,987.5 689.2,995.0 678.3,995.8 678.3,1008.3 660.0,1008.3 653.3,998.3Z" fill="#edf041"/>
<path d="M678.3,995.8 689.2,995.0 695.0,1003.3 703.3,1003.3 703.3,1013.3 686.7,1013.3 678.3,1008.3Z" fill="#3fb98a"/>
<path d="M703.3,1003.3 726.7,998.3 727.5,1005.0 705.8,1010.0 703.3,1013.3Z" fill="#7dd655"/>
<path d="M647.5,1005.0 671.7,1008.3 671.7,1030.8 647.5,1028.3Z" fill="#8ee048"/>
<path d="M670.0,1008.3 686.7,1013.3 686.7,1031.7 670.0,1031.7Z" fill="#45b88b"/>
<path d="M686.7,1013.3 705.8,1013.3 707.5,1021.7 720.0,1028.3 724.2,1035.0 686.7,1046.7 670.0,1035.0 670.0,1031.7 686.7,1031.7Z" fill="#d0e43a"/>
<path d="M705.0,1010.0 726.7,1005.0 727.5,1029.2 720.0,1028.3 707.5,1021.7 705.8,1015.0Z" fill="#3c5c99"/>
<path d="M726.7,1003.3 740.0,1003.3 740.0,1025.8 727.5,1029.2Z" fill="#e0e43c"/>
<path d="M632.5,1046.7 666.7,1035.0 680.0,1041.7 678.3,1046.7 632.5,1059.2Z" fill="#33468f"/>
</g>
<clipPath id="c13"><path d="M1149.6,861.8 1169.1,845.5 1173.6,847.3 1177.3,853.6 1184.5,852.7 1200.9,863.6 1208.2,865.5 1210.0,870.0 1210.9,881.8 1195.5,884.5 1191.8,890.0 1189.1,888.2 1187.3,882.7 1184.5,878.2 1177.3,879.1 1168.2,885.5Z"/></clipPath>
<g clip-path="url(#c13)">
<path d="M1149.6,861.8 1169.1,845.5 1173.6,847.3 1177.3,853.6 1184.5,852.7 1200.9,863.6 1208.2,865.5 1210.0,870.0 1210.9,881.8 1195.5,884.5 1191.8,890.0 1189.1,888.2 1187.3,882.7 1184.5,878.2 1177.3,879.1 1168.2,885.5Z" fill="#430e62"/>
<path d="M1170.9,853.6 1188.2,851.8 1200.9,863.6 1199.1,870.0 1188.2,873.6 1177.3,864.5Z" fill="#43be8e"/>
</g>
<clipPath id="c14"><path d="M1114.5,910.0 1126.4,899.1 1135.5,880.0 1137.6,881.8 1133.6,893.6 1134.5,908.5Z"/></clipPath>
<g clip-path="url(#c14)">
<path d="M1114.5,910.0 1126.4,899.1 1135.5,880.0 1137.6,881.8 1133.6,893.6 1134.5,908.5Z" fill="#3b5f96"/>
</g>
<clipPath id="c15"><path d="M1221.8,965.5 1229.1,965.5 1227.3,973.6 1231.8,975.5 1239.1,973.6 1246.4,973.6 1251.8,975.5 1252.7,982.7 1248.2,988.2 1248.2,997.3 1264.5,1019.1 1262.7,1020.0 1220.9,1025.5 1219.1,1011.8 1220.0,993.6 1222.7,984.5 1225.5,973.6Z"/></clipPath>
<g clip-path="url(#c15)">
<path d="M1221.8,965.5 1229.1,965.5 1227.3,973.6 1231.8,975.5 1239.1,973.6 1246.4,973.6 1251.8,975.5 1252.7,982.7 1248.2,988.2 1248.2,997.3 1264.5,1019.1 1262.7,1020.0 1220.9,1025.5 1219.1,1011.8 1220.0,993.6 1222.7,984.5 1225.5,973.6Z" fill="#430e62"/>
<path d="M1231.8,1010.0 1240.9,1008.2 1242.7,1019.1 1231.8,1020.9Z" fill="#3d6e95"/>
<path d="M1217.3,1020.9 1233.6,1020.0 1233.6,1028.2 1217.3,1028.2Z" fill="#3d7e95"/>
</g>
<clipPath id="c16"><path d="M1279.8,987.3 1284.5,984.0 1289.3,976.7 1293.5,978.7 1301.8,980.4 1307.1,981.5 1312.2,986.5 1318.5,991.8 1322.7,980.9 1343.6,984.0 1325.8,1012.2 1314.9,1028.9 1304.4,1033.1 1288.2,1040.5 1281.8,1042.5 1278.4,1038.4 1272.0,1033.1 1280.9,1022.7 1298.7,1022.7 1289.3,1006.9Z"/></clipPath>
<g clip-path="url(#c16)">
<path d="M1279.8,987.3 1284.5,984.0 1289.3,976.7 1293.5,978.7 1301.8,980.4 1307.1,981.5 1312.2,986.5 1318.5,991.8 1322.7,980.9 1343.6,984.0 1325.8,1012.2 1314.9,1028.9 1304.4,1033.1 1288.2,1040.5 1281.8,1042.5 1278.4,1038.4 1272.0,1033.1 1280.9,1022.7 1298.7,1022.7 1289.3,1006.9Z" fill="#430e62"/>
<path d="M1279.1,984.5 1291.8,984.5 1293.6,999.1 1284.5,999.1Z" fill="#3fae8e"/>
<path d="M1291.8,986.4 1308.2,988.2 1308.2,1026.4 1291.8,1022.7Z" fill="#3f5b96"/>
<path d="M1277.3,1044.5 1284.5,1035.5 1304.5,1025.5 1315.5,1021.8 1320.9,1030.0 1304.5,1037.3 1288.2,1046.4Z" fill="#edf041"/>
</g>
<clipPath id="c17"><path d="M1110.9,1068.2 1130.0,1060.9 1130.0,1047.3 1133.6,1048.2 1144.5,1057.3 1151.8,1055.5 1157.3,1051.8 1164.5,1050.9 1166.4,1055.5 1173.6,1051.8 1182.7,1040.9 1188.2,1048.2 1195.5,1059.1 1204.5,1070.0 1220.9,1059.1 1221.8,1070.0 1224.5,1075.5 1231.8,1082.7 1226.4,1095.5 1210.0,1097.3 1199.1,1090.0 1190.0,1084.5 1177.3,1091.8 1166.4,1093.6 1151.8,1095.5 1130.0,1097.3 1128.2,1084.5 1130.0,1073.6 1122.7,1070.0Z"/></clipPath>
<g clip-path="url(#c17)">
<path d="M1110.9,1068.2 1130.0,1060.9 1130.0,1047.3 1133.6,1048.2 1144.5,1057.3 1151.8,1055.5 1157.3,1051.8 1164.5,1050.9 1166.4,1055.5 1173.6,1051.8 1182.7,1040.9 1188.2,1048.2 1195.5,1059.1 1204.5,1070.0 1220.9,1059.1 1221.8,1070.0 1224.5,1075.5 1231.8,1082.7 1226.4,1095.5 1210.0,1097.3 1199.1,1090.0 1190.0,1084.5 1177.3,1091.8 1166.4,1093.6 1151.8,1095.5 1130.0,1097.3 1128.2,1084.5 1130.0,1073.6 1122.7,1070.0Z" fill="#430e62"/>
<path d="M1126.4,1046.4 1135.5,1046.4 1144.5,1059.1 1159.1,1095.5 1126.4,1099.1Z" fill="#edf041"/>
<path d="M1159.1,1077.3 1173.6,1075.5 1177.3,1084.5 1168.2,1091.8 1159.1,1088.2Z" fill="#8ee04a"/>
<path d="M1202.7,1066.4 1222.7,1064.5 1224.5,1091.8 1206.4,1091.8Z" fill="#40468f"/>
</g>
<clipPath id="c18"><path d="M1100.0,1100.9 1115.5,1099.1 1130.0,1102.7 1148.2,1102.7 1151.8,1106.4 1149.1,1120.9 1133.6,1122.7 1130.0,1120.9 1119.1,1124.5 1108.2,1131.8 1104.5,1128.2 1102.7,1115.5Z"/></clipPath>
<g clip-path="url(#c18)">
<path d="M1100.0,1100.9 1115.5,1099.1 1130.0,1102.7 1148.2,1102.7 1151.8,1106.4 1149.1,1120.9 1133.6,1122.7 1130.0,1120.9 1119.1,1124.5 1108.2,1131.8 1104.5,1128.2 1102.7,1115.5Z" fill="#430e62"/>
<path d="M1130.0,1099.1 1159.1,1099.1 1159.1,1124.5 1133.6,1124.5Z" fill="#3a9e8c"/>
</g>
<clipPath id="c19"><path d="M1111.8,1157.3 1122.7,1150.0 1126.4,1141.8 1134.5,1144.5 1136.4,1155.5 1133.6,1170.0 1124.5,1175.5 1117.3,1170.0Z"/></clipPath>
<g clip-path="url(#c19)">
<path d="M1111.8,1157.3 1122.7,1150.0 1126.4,1141.8 1134.5,1144.5 1136.4,1155.5 1133.6,1170.0 1124.5,1175.5 1117.3,1170.0Z" fill="#edf041"/>
</g>
<clipPath id="c20"><path d="M1084.6,949.6 1095.0,961.7 1103.3,970.8 1106.7,975.0 1110.8,976.7 1113.3,978.3 1116.7,980.0 1119.2,979.2 1118.3,971.7 1115.4,963.3 1114.2,955.0 1109.2,946.7 1108.3,941.7 1113.3,939.2 1117.9,937.5 1120.4,940.8 1123.3,945.0 1130.0,951.7 1133.3,954.2 1140.8,948.3 1150.0,950.0 1154.2,951.7 1156.7,950.0 1158.3,946.7 1153.3,945.0 1145.8,943.3 1147.5,934.2 1150.0,921.7 1155.0,915.8 1159.2,919.2 1164.2,924.2 1166.7,930.0 1170.8,936.7 1175.0,946.7 1178.3,955.0 1185.0,958.3 1190.0,961.7 1193.3,965.0 1198.3,966.7 1201.2,963.3 1202.5,968.3 1198.3,971.7 1193.3,974.2 1186.7,973.3 1178.3,978.3 1177.5,982.5 1170.0,985.0 1168.3,988.3 1174.2,996.7 1178.3,1001.7 1183.3,1005.0 1185.8,1009.2 1186.7,1013.3 1187.9,1020.0 1185.0,1023.3 1180.0,1025.0 1177.5,1028.3 1174.2,1030.0 1170.0,1033.3 1153.3,1035.8 1140.8,1040.0 1130.0,1043.3 1121.7,1041.7 1116.7,1036.7 1111.7,1035.0 1106.7,1030.8 1101.7,1027.5 1099.2,1021.7 1100.8,1015.8 1096.7,1018.3 1091.7,1025.0 1084.6,1034.2ZM1085.8,1050.8 1116.7,1037.1 1123.3,1040.0 1128.3,1043.8 1120.0,1042.5 1088.3,1055.4 1085.4,1054.2Z"/></clipPath>
<g clip-path="url(#c20)">
<path d="M1084.6,949.6 1095.0,961.7 1103.3,970.8 1106.7,975.0 1110.8,976.7 1113.3,978.3 1116.7,980.0 1119.2,979.2 1118.3,971.7 1115.4,963.3 1114.2,955.0 1109.2,946.7 1108.3,941.7 1113.3,939.2 1117.9,937.5 1120.4,940.8 1123.3,945.0 1130.0,951.7 1133.3,954.2 1140.8,948.3 1150.0,950.0 1154.2,951.7 1156.7,950.0 1158.3,946.7 1153.3,945.0 1145.8,943.3 1147.5,934.2 1150.0,921.7 1155.0,915.8 1159.2,919.2 1164.2,924.2 1166.7,930.0 1170.8,936.7 1175.0,946.7 1178.3,955.0 1185.0,958.3 1190.0,961.7 1193.3,965.0 1198.3,966.7 1201.2,963.3 1202.5,968.3 1198.3,971.7 1193.3,974.2 1186.7,973.3 1178.3,978.3 1177.5,982.5 1170.0,985.0 1168.3,988.3 1174.2,996.7 1178.3,1001.7 1183.3,1005.0 1185.8,1009.2 1186.7,1013.3 1187.9,1020.0 1185.0,1023.3 1180.0,1025.0 1177.5,1028.3 1174.2,1030.0 1170.0,1033.3 1153.3,1035.8 1140.8,1040.0 1130.0,1043.3 1121.7,1041.7 1116.7,1036.7 1111.7,1035.0 1106.7,1030.8 1101.7,1027.5 1099.2,1021.7 1100.8,1015.8 1096.7,1018.3 1091.7,1025.0 1084.6,1034.2ZM1085.8,1050.8 1116.7,1037.1 1123.3,1040.0 1128.3,1043.8 1120.0,1042.5 1088.3,1055.4 1085.4,1054.2Z" fill="#430e62"/>
<path d="M1106.7,936.7 1121.7,936.7 1128.3,950.0 1133.3,953.3 1140.8,948.3 1150.0,950.0 1161.7,953.3 1165.8,958.3 1178.3,959.2 1185.0,963.3 1178.3,971.7 1175.8,974.2 1178.3,978.3 1178.3,984.2 1170.0,985.0 1164.2,979.2 1156.7,978.3 1150.0,974.2 1143.3,968.3 1140.8,965.8 1140.8,980.0 1138.3,987.5 1120.0,989.2 1119.2,980.0 1116.7,976.7 1115.0,963.3Z" fill="#edf041"/>
<path d="M1145.0,923.3 1150.0,921.7 1158.3,932.5 1162.5,940.8 1164.2,958.3 1157.5,958.3 1145.0,943.3Z" fill="#edf041"/>
<path d="M1120.0,989.2 1138.3,987.5 1145.0,980.0 1161.7,980.0 1170.0,988.3 1170.0,996.7 1145.0,1000.8 1120.0,996.7Z" fill="#4a2a8a"/>
<path d="M1109.2,976.7 1115.0,978.3 1118.3,988.3 1119.2,995.8 1115.8,995.8 1111.7,985.0Z" fill="#5de07a"/>
<path d="M1097.5,988.3 1103.3,988.3 1105.0,995.0 1109.2,1000.0 1105.0,1012.5 1100.8,1012.5 1098.3,1000.8Z" fill="#45c08e"/>
<path d="M1100.0,1013.3 1116.7,1008.3 1135.0,1009.2 1136.7,1017.5 1135.0,1025.8 1123.3,1035.0 1111.7,1035.0 1105.0,1030.0 1100.0,1023.3Z" fill="#3f5a9a"/>
<path d="M1135.8,1011.7 1145.0,1007.5 1153.3,1009.2 1157.5,1021.7 1170.0,1028.3 1174.2,1030.0 1145.0,1040.0 1141.7,1035.0 1143.3,1023.3 1136.7,1020.0Z" fill="#3fa08f"/>
<path d="M1136.7,1010.0 1149.2,1003.3 1161.7,998.3 1165.0,1000.8 1169.2,1008.3 1165.0,1012.5 1160.0,1013.3 1153.3,1009.2 1145.0,1010.0Z" fill="#5fe07a"/>
</g>
<clipPath id="c21"><path d="M1617.4,861.8 1636.9,845.5 1641.4,847.3 1645.1,853.6 1652.3,852.7 1668.7,863.6 1676.0,865.5 1677.8,870.0 1678.7,881.8 1663.3,884.5 1659.6,890.0 1656.9,888.2 1655.1,882.7 1652.3,878.2 1645.1,879.1 1636.0,885.5Z"/></clipPath>
<g clip-path="url(#c21)">
<path d="M1617.4,861.8 1636.9,845.5 1641.4,847.3 1645.1,853.6 1652.3,852.7 1668.7,863.6 1676.0,865.5 1677.8,870.0 1678.7,881.8 1663.3,884.5 1659.6,890.0 1656.9,888.2 1655.1,882.7 1652.3,878.2 1645.1,879.1 1636.0,885.5Z" fill="#430e62"/>
<path d="M1638.2,853.6 1663.6,853.6 1667.3,864.5 1654.5,871.8 1641.8,866.4Z" fill="#3f7a94"/>
</g>
<clipPath id="c22"><path d="M1582.3,910.0 1594.2,899.1 1603.3,880.0 1605.4,881.8 1601.4,893.6 1602.3,908.5Z"/></clipPath>
<g clip-path="url(#c22)">
<path d="M1582.3,910.0 1594.2,899.1 1603.3,880.0 1605.4,881.8 1601.4,893.6 1602.3,908.5Z" fill="#edf041"/>
</g>
<clipPath id="c23"><path d="M1689.6,965.5 1696.9,965.5 1695.1,973.6 1699.6,975.5 1706.9,973.6 1714.2,973.6 1719.6,975.5 1720.5,982.7 1716.0,988.2 1716.0,997.3 1732.3,1019.1 1730.5,1020.0 1688.7,1025.5 1686.9,1011.8 1687.8,993.6 1690.5,984.5 1693.3,973.6Z"/></clipPath>
<g clip-path="url(#c23)">
<path d="M1689.6,965.5 1696.9,965.5 1695.1,973.6 1699.6,975.5 1706.9,973.6 1714.2,973.6 1719.6,975.5 1720.5,982.7 1716.0,988.2 1716.0,997.3 1732.3,1019.1 1730.5,1020.0 1688.7,1025.5 1686.9,1011.8 1687.8,993.6 1690.5,984.5 1693.3,973.6Z" fill="#430e62"/>
</g>
<clipPath id="c24"><path d="M1747.6,987.3 1752.3,984.0 1757.1,976.7 1761.3,978.7 1769.6,980.4 1774.9,981.5 1780.0,986.5 1786.3,991.8 1790.5,980.9 1811.4,984.0 1793.6,1012.2 1782.7,1028.9 1772.2,1033.1 1756.0,1040.5 1749.6,1042.5 1746.2,1038.4 1739.8,1033.1 1748.7,1022.7 1766.5,1022.7 1757.1,1006.9Z"/></clipPath>
<g clip-path="url(#c24)">
<path d="M1747.6,987.3 1752.3,984.0 1757.1,976.7 1761.3,978.7 1769.6,980.4 1774.9,981.5 1780.0,986.5 1786.3,991.8 1790.5,980.9 1811.4,984.0 1793.6,1012.2 1782.7,1028.9 1772.2,1033.1 1756.0,1040.5 1749.6,1042.5 1746.2,1038.4 1739.8,1033.1 1748.7,1022.7 1766.5,1022.7 1757.1,1006.9Z" fill="#430e62"/>
<path d="M1736.4,1033.6 1763.6,1022.7 1769.1,1030.0 1763.6,1046.4 1750.9,1046.4Z" fill="#4a3f90"/>
<path d="M1763.6,1013.6 1790.9,1013.6 1783.6,1030.0 1767.3,1040.9 1758.2,1040.9 1763.6,1030.0Z" fill="#3fae8b"/>
</g>
<clipPath id="c25"><path d="M1578.7,1068.2 1597.8,1060.9 1597.8,1047.3 1601.4,1048.2 1612.3,1057.3 1619.6,1055.5 1625.1,1051.8 1632.3,1050.9 1634.2,1055.5 1641.4,1051.8 1650.5,1040.9 1656.0,1048.2 1663.3,1059.1 1672.3,1070.0 1688.7,1059.1 1689.6,1070.0 1692.3,1075.5 1699.6,1082.7 1694.2,1095.5 1677.8,1097.3 1666.9,1090.0 1657.8,1084.5 1645.1,1091.8 1634.2,1093.6 1619.6,1095.5 1597.8,1097.3 1596.0,1084.5 1597.8,1073.6 1590.5,1070.0Z"/></clipPath>
<g clip-path="url(#c25)">
<path d="M1578.7,1068.2 1597.8,1060.9 1597.8,1047.3 1601.4,1048.2 1612.3,1057.3 1619.6,1055.5 1625.1,1051.8 1632.3,1050.9 1634.2,1055.5 1641.4,1051.8 1650.5,1040.9 1656.0,1048.2 1663.3,1059.1 1672.3,1070.0 1688.7,1059.1 1689.6,1070.0 1692.3,1075.5 1699.6,1082.7 1694.2,1095.5 1677.8,1097.3 1666.9,1090.0 1657.8,1084.5 1645.1,1091.8 1634.2,1093.6 1619.6,1095.5 1597.8,1097.3 1596.0,1084.5 1597.8,1073.6 1590.5,1070.0Z" fill="#430e62"/>
<path d="M1593.6,1044.5 1607.3,1055.5 1614.5,1060.9 1627.3,1095.5 1593.6,1099.1Z" fill="#edf041"/>
<path d="M1614.5,1057.3 1636.4,1057.3 1638.2,1070.0 1638.2,1095.5 1627.3,1095.5Z" fill="#3d6f96"/>
</g>
<clipPath id="c26"><path d="M1567.8,1100.9 1583.3,1099.1 1597.8,1102.7 1616.0,1102.7 1619.6,1106.4 1616.9,1120.9 1601.4,1122.7 1597.8,1120.9 1586.9,1124.5 1576.0,1131.8 1572.3,1128.2 1570.5,1115.5Z"/></clipPath>
<g clip-path="url(#c26)">
<path d="M1567.8,1100.9 1583.3,1099.1 1597.8,1102.7 1616.0,1102.7 1619.6,1106.4 1616.9,1120.9 1601.4,1122.7 1597.8,1120.9 1586.9,1124.5 1576.0,1131.8 1572.3,1128.2 1570.5,1115.5Z" fill="#430e62"/>
<path d="M1598.2,1099.1 1623.6,1099.1 1623.6,1124.5 1599.1,1124.5Z" fill="#43459a"/>
</g>
<clipPath id="c27"><path d="M1579.6,1157.3 1590.5,1150.0 1594.2,1141.8 1602.3,1144.5 1604.2,1155.5 1601.4,1170.0 1592.3,1175.5 1585.1,1170.0Z"/></clipPath>
<g clip-path="url(#c27)">
<path d="M1579.6,1157.3 1590.5,1150.0 1594.2,1141.8 1602.3,1144.5 1604.2,1155.5 1601.4,1170.0 1592.3,1175.5 1585.1,1170.0Z" fill="#45b890"/>
</g>
<clipPath id="c28"><path d="M1552.4,949.6 1562.8,961.7 1571.1,970.8 1574.5,975.0 1578.6,976.7 1581.1,978.3 1584.5,980.0 1587.0,979.2 1586.1,971.7 1583.2,963.3 1582.0,955.0 1577.0,946.7 1576.1,941.7 1581.1,939.2 1585.7,937.5 1588.2,940.8 1591.1,945.0 1597.8,951.7 1601.1,954.2 1608.6,948.3 1617.8,950.0 1622.0,951.7 1624.5,950.0 1626.1,946.7 1621.1,945.0 1613.6,943.3 1615.3,934.2 1617.8,921.7 1622.8,915.8 1627.0,919.2 1632.0,924.2 1634.5,930.0 1638.6,936.7 1642.8,946.7 1646.1,955.0 1652.8,958.3 1657.8,961.7 1661.1,965.0 1666.1,966.7 1669.0,963.3 1670.3,968.3 1666.1,971.7 1661.1,974.2 1654.5,973.3 1646.1,978.3 1645.3,982.5 1637.8,985.0 1636.1,988.3 1642.0,996.7 1646.1,1001.7 1651.1,1005.0 1653.6,1009.2 1654.5,1013.3 1655.7,1020.0 1652.8,1023.3 1647.8,1025.0 1645.3,1028.3 1642.0,1030.0 1637.8,1033.3 1621.1,1035.8 1608.6,1040.0 1597.8,1043.3 1589.5,1041.7 1584.5,1036.7 1579.5,1035.0 1574.5,1030.8 1569.5,1027.5 1567.0,1021.7 1568.6,1015.8 1564.5,1018.3 1559.5,1025.0 1552.4,1034.2ZM1553.6,1050.8 1584.5,1037.1 1591.1,1040.0 1596.1,1043.8 1587.8,1042.5 1556.1,1055.4 1553.2,1054.2Z"/></clipPath>
<g clip-path="url(#c28)">
<path d="M1552.4,949.6 1562.8,961.7 1571.1,970.8 1574.5,975.0 1578.6,976.7 1581.1,978.3 1584.5,980.0 1587.0,979.2 1586.1,971.7 1583.2,963.3 1582.0,955.0 1577.0,946.7 1576.1,941.7 1581.1,939.2 1585.7,937.5 1588.2,940.8 1591.1,945.0 1597.8,951.7 1601.1,954.2 1608.6,948.3 1617.8,950.0 1622.0,951.7 1624.5,950.0 1626.1,946.7 1621.1,945.0 1613.6,943.3 1615.3,934.2 1617.8,921.7 1622.8,915.8 1627.0,919.2 1632.0,924.2 1634.5,930.0 1638.6,936.7 1642.8,946.7 1646.1,955.0 1652.8,958.3 1657.8,961.7 1661.1,965.0 1666.1,966.7 1669.0,963.3 1670.3,968.3 1666.1,971.7 1661.1,974.2 1654.5,973.3 1646.1,978.3 1645.3,982.5 1637.8,985.0 1636.1,988.3 1642.0,996.7 1646.1,1001.7 1651.1,1005.0 1653.6,1009.2 1654.5,1013.3 1655.7,1020.0 1652.8,1023.3 1647.8,1025.0 1645.3,1028.3 1642.0,1030.0 1637.8,1033.3 1621.1,1035.8 1608.6,1040.0 1597.8,1043.3 1589.5,1041.7 1584.5,1036.7 1579.5,1035.0 1574.5,1030.8 1569.5,1027.5 1567.0,1021.7 1568.6,1015.8 1564.5,1018.3 1559.5,1025.0 1552.4,1034.2ZM1553.6,1050.8 1584.5,1037.1 1591.1,1040.0 1596.1,1043.8 1587.8,1042.5 1556.1,1055.4 1553.2,1054.2Z" fill="#430e62"/>
<path d="M1575.3,942.5 1584.5,937.5 1591.1,945.0 1597.8,951.7 1604.5,951.7 1612.8,946.7 1612.8,925.0 1617.8,921.7 1622.8,915.8 1627.8,921.7 1633.6,930.0 1637.8,936.7 1642.8,946.7 1646.1,955.0 1656.1,958.3 1662.8,963.3 1667.8,961.7 1669.5,968.3 1662.8,973.3 1654.5,974.2 1646.1,978.3 1645.3,981.7 1637.8,985.0 1634.5,988.3 1625.3,985.0 1617.8,983.3 1608.6,985.0 1604.5,988.3 1604.5,996.7 1584.5,996.7 1579.5,988.3 1577.0,980.0 1572.8,974.2 1580.3,977.5 1581.1,968.3 1576.1,951.7Z" fill="#edf041"/>
<path d="M1617.0,919.2 1622.8,915.0 1629.5,923.3 1633.6,930.0 1628.6,935.0 1625.3,930.0 1619.5,925.8 1617.0,921.7Z" fill="#3aa08b"/>
<path d="M1592.0,986.7 1596.1,976.7 1602.0,960.0 1604.5,958.3 1607.0,963.3 1608.6,971.7 1609.5,978.3 1607.0,985.0 1604.5,988.3 1596.1,987.5Z" fill="#3d5a9a"/>
<path d="M1551.1,948.3 1562.8,961.7 1566.1,968.3 1565.3,985.0 1551.1,981.7Z" fill="#52d870"/>
<path d="M1565.3,968.3 1572.8,974.2 1577.8,980.0 1582.8,988.3 1584.5,996.7 1579.5,999.2 1571.1,996.7 1565.3,985.0Z" fill="#42409a"/>
<path d="M1569.5,1005.0 1584.5,1001.7 1596.1,1005.0 1597.8,1021.7 1587.8,1030.0 1575.3,1028.3 1567.8,1020.0Z" fill="#452f88"/>
<path d="M1608.6,1021.7 1625.3,1017.5 1637.8,1025.8 1639.5,1033.3 1612.8,1039.2 1607.0,1030.0Z" fill="#3f4f95"/>
<path d="M1611.1,1000.8 1629.5,996.7 1642.0,1003.3 1629.5,1013.3 1617.0,1013.3Z" fill="#42428f"/>
</g>
<clipPath id="c29"><path d="M520.6,1474.5 533.1,1465.5 536.5,1458.6 535.4,1453.0 544.5,1449.5 553.5,1451.8 558.1,1445.0 560.4,1438.2 567.2,1437.0 574.0,1429.1 585.4,1424.5 589.9,1426.8 594.5,1429.1 601.3,1424.5 605.8,1415.5 610.4,1413.2 614.9,1406.4 612.6,1392.7 609.2,1379.1 617.2,1372.3 622.9,1376.8 626.3,1381.4 635.4,1376.8 646.7,1370.0 658.1,1365.5 667.2,1356.4 671.7,1342.7 680.8,1332.5 692.2,1328.0 699.0,1329.5 703.5,1338.2 704.7,1351.8 714.9,1354.1 716.0,1357.5 711.5,1360.9 709.2,1370.0 705.8,1379.1 703.5,1388.2 705.8,1397.3 707.0,1410.9 699.0,1416.6 687.6,1417.7 676.3,1417.7 667.2,1420.0 655.8,1418.9 645.6,1416.6 641.0,1421.1 643.3,1433.6 644.5,1447.3 641.0,1456.4 636.5,1465.5 635.4,1472.3 619.5,1470.0 608.1,1467.7 601.3,1458.6 585.4,1458.6 577.4,1459.8 567.2,1467.7 555.8,1470.0 544.5,1473.4 541.0,1475.7 537.6,1471.1 530.8,1474.5 522.9,1475.7Z"/></clipPath>
<g clip-path="url(#c29)">
<path d="M520.6,1474.5 533.1,1465.5 536.5,1458.6 535.4,1453.0 544.5,1449.5 553.5,1451.8 558.1,1445.0 560.4,1438.2 567.2,1437.0 574.0,1429.1 585.4,1424.5 589.9,1426.8 594.5,1429.1 601.3,1424.5 605.8,1415.5 610.4,1413.2 614.9,1406.4 612.6,1392.7 609.2,1379.1 617.2,1372.3 622.9,1376.8 626.3,1381.4 635.4,1376.8 646.7,1370.0 658.1,1365.5 667.2,1356.4 671.7,1342.7 680.8,1332.5 692.2,1328.0 699.0,1329.5 703.5,1338.2 704.7,1351.8 714.9,1354.1 716.0,1357.5 711.5,1360.9 709.2,1370.0 705.8,1379.1 703.5,1388.2 705.8,1397.3 707.0,1410.9 699.0,1416.6 687.6,1417.7 676.3,1417.7 667.2,1420.0 655.8,1418.9 645.6,1416.6 641.0,1421.1 643.3,1433.6 644.5,1447.3 641.0,1456.4 636.5,1465.5 635.4,1472.3 619.5,1470.0 608.1,1467.7 601.3,1458.6 585.4,1458.6 577.4,1459.8 567.2,1467.7 555.8,1470.0 544.5,1473.4 541.0,1475.7 537.6,1471.1 530.8,1474.5 522.9,1475.7Z" fill="#3fa08b"/>
<path d="M636.4,1326.8 715.9,1326.8 715.9,1383.6 688.6,1376.8 659.1,1397.3 636.4,1406.4 618.2,1397.3 618.2,1376.8Z" fill="#3a8a8f"/>
<path d="M672.7,1331.4 700.0,1329.1 702.3,1349.5 688.6,1351.8 675.0,1347.3Z" fill="#3d6a95"/>
<path d="M627.3,1388.2 645.5,1383.6 654.5,1392.7 650.0,1401.8 631.8,1401.8Z" fill="#3d7295"/>
<path d="M679.5,1354.1 693.2,1351.8 697.7,1360.9 690.9,1367.7 681.8,1365.5Z" fill="#6ad870"/>
<path d="M650.0,1401.8 663.6,1390.5 679.5,1381.4 688.6,1376.8 693.2,1383.6 686.4,1397.3 681.8,1415.5 659.1,1420.0 645.5,1415.5Z" fill="#a8e048"/>
<path d="M622.7,1406.4 636.4,1401.8 645.5,1399.5 647.7,1415.5 636.4,1420.0 625.0,1417.7Z" fill="#d8e23c"/>
<path d="M572.7,1429.1 586.4,1426.8 586.4,1442.7 575.0,1449.5Z" fill="#3d6a95"/>
</g>
<clipPath id="c30"><path d="M655.4,1477.3 658.1,1465.9 671.7,1451.8 685.8,1435.5 694.9,1442.7 697.2,1451.8 709.2,1455.9 710.8,1468.2 701.7,1472.7 695.8,1488.6 677.4,1488.6 659.9,1503.0 655.4,1497.3Z"/></clipPath>
<g clip-path="url(#c30)">
<path d="M655.4,1477.3 658.1,1465.9 671.7,1451.8 685.8,1435.5 694.9,1442.7 697.2,1451.8 709.2,1455.9 710.8,1468.2 701.7,1472.7 695.8,1488.6 677.4,1488.6 659.9,1503.0 655.4,1497.3Z" fill="#3fa48b"/>
<path d="M652.3,1481.4 672.7,1474.5 686.4,1476.8 688.6,1488.2 659.1,1504.1Z" fill="#3d7595"/>
<path d="M677.3,1470.0 700.0,1465.5 700.0,1488.2 690.9,1488.2Z" fill="#3a8590"/>
</g>
<clipPath id="c31"><path d="M718.3,1450.7 721.7,1433.6 726.3,1430.2 735.4,1424.5 744.5,1410.9 749.0,1399.5 754.7,1392.7 760.4,1388.2 764.9,1379.1 778.5,1370.0 789.9,1367.7 796.7,1370.0 803.5,1367.7 812.6,1365.5 824.0,1358.6 835.4,1356.4 839.9,1360.9 849.0,1363.2 853.5,1367.7 860.4,1365.5 862.6,1360.9 876.3,1351.8 880.8,1346.8 885.4,1356.4 885.4,1362.0 876.3,1365.5 867.2,1371.1 862.6,1376.8 853.5,1392.7 849.0,1401.8 842.2,1407.5 846.7,1413.2 850.1,1417.7 844.5,1426.8 835.4,1433.6 826.3,1435.9 812.6,1433.6 801.3,1430.2 794.5,1435.9 787.6,1443.9 783.1,1451.8 776.3,1462.0 769.5,1459.1 762.6,1456.8 755.8,1453.0 749.0,1450.7 739.9,1451.8 730.8,1454.5 724.0,1454.5Z"/></clipPath>
<g clip-path="url(#c31)">
<path d="M718.3,1450.7 721.7,1433.6 726.3,1430.2 735.4,1424.5 744.5,1410.9 749.0,1399.5 754.7,1392.7 760.4,1388.2 764.9,1379.1 778.5,1370.0 789.9,1367.7 796.7,1370.0 803.5,1367.7 812.6,1365.5 824.0,1358.6 835.4,1356.4 839.9,1360.9 849.0,1363.2 853.5,1367.7 860.4,1365.5 862.6,1360.9 876.3,1351.8 880.8,1346.8 885.4,1356.4 885.4,1362.0 876.3,1365.5 867.2,1371.1 862.6,1376.8 853.5,1392.7 849.0,1401.8 842.2,1407.5 846.7,1413.2 850.1,1417.7 844.5,1426.8 835.4,1433.6 826.3,1435.9 812.6,1433.6 801.3,1430.2 794.5,1435.9 787.6,1443.9 783.1,1451.8 776.3,1462.0 769.5,1459.1 762.6,1456.8 755.8,1453.0 749.0,1450.7 739.9,1451.8 730.8,1454.5 724.0,1454.5Z" fill="#3d9a8c"/>
<path d="M804.5,1365.5 831.8,1360.9 836.4,1376.8 825.0,1388.2 806.8,1383.6Z" fill="#3d7895"/>
<path d="M750.0,1397.3 761.4,1390.5 788.6,1392.7 793.2,1408.6 779.5,1417.7 800.0,1429.1 795.5,1442.7 784.1,1435.9 768.2,1429.1 756.8,1415.5Z" fill="#d8e43c"/>
<path d="M747.7,1445.0 761.4,1438.2 777.3,1433.6 786.4,1442.7 779.5,1458.6 752.3,1458.6Z" fill="#c8e040"/>
<path d="M802.3,1410.9 818.2,1397.3 827.3,1392.7 840.9,1408.6 827.3,1424.5 809.1,1429.1Z" fill="#ecf042"/>
<path d="M763.6,1429.1 779.5,1424.5 786.4,1438.2 772.7,1447.3 763.6,1440.5Z" fill="#7ad860"/>
<path d="M772.7,1404.1 784.1,1404.1 784.1,1420.0 775.0,1420.0Z" fill="#3d7895"/>
<path d="M777.3,1447.3 790.9,1442.7 793.2,1449.5 779.5,1462.0Z" fill="#3d6a95"/>
<path d="M715.9,1449.5 722.7,1431.4 734.1,1433.6 738.6,1454.1 725.0,1457.5Z" fill="#3d7895"/>
<path d="M859.1,1365.5 877.3,1351.8 884.1,1345.0 888.6,1360.9 868.2,1370.0 863.6,1376.8Z" fill="#3d6a95"/>
<path d="M822.7,1415.5 847.7,1413.2 850.0,1420.0 840.9,1433.6 827.3,1435.9Z" fill="#45b08a"/>
</g>
<clipPath id="c32"><path d="M864.9,1415.5 871.7,1399.5 883.1,1388.2 894.5,1387.7 899.5,1395.5 885.4,1406.4 874.0,1416.6Z"/></clipPath>
<g clip-path="url(#c32)">
<path d="M864.9,1415.5 871.7,1399.5 883.1,1388.2 894.5,1387.7 899.5,1395.5 885.4,1406.4 874.0,1416.6Z" fill="#3d6597"/>
</g>
<path d="M677.4,1397.3 687.6,1384.8 697.9,1383.6 699.5,1390.5 694.9,1406.4 688.8,1412.0 678.5,1409.1ZM622.9,1429.1 635.4,1426.8 637.6,1438.2 630.8,1447.3 624.0,1442.7Z" fill="#ffffff"/>
<clipPath id="c33"><path d="M966.6,1474.5 979.1,1465.5 982.5,1458.6 981.4,1453.0 990.5,1449.5 999.5,1451.8 1004.1,1445.0 1006.4,1438.2 1013.2,1437.0 1020.0,1429.1 1031.4,1424.5 1035.9,1426.8 1040.5,1429.1 1047.3,1424.5 1051.8,1415.5 1056.4,1413.2 1060.9,1406.4 1058.6,1392.7 1055.2,1379.1 1063.2,1372.3 1068.9,1376.8 1072.3,1381.4 1081.4,1376.8 1092.7,1370.0 1104.1,1365.5 1113.2,1356.4 1117.7,1342.7 1126.8,1332.5 1138.2,1328.0 1145.0,1329.5 1149.5,1338.2 1150.7,1351.8 1160.9,1354.1 1162.0,1357.5 1157.5,1360.9 1155.2,1370.0 1151.8,1379.1 1149.5,1388.2 1151.8,1397.3 1153.0,1410.9 1145.0,1416.6 1133.6,1417.7 1122.3,1417.7 1113.2,1420.0 1101.8,1418.9 1091.6,1416.6 1087.0,1421.1 1089.3,1433.6 1090.5,1447.3 1087.0,1456.4 1082.5,1465.5 1081.4,1472.3 1065.5,1470.0 1054.1,1467.7 1047.3,1458.6 1031.4,1458.6 1023.4,1459.8 1013.2,1467.7 1001.8,1470.0 990.5,1473.4 987.0,1475.7 983.6,1471.1 976.8,1474.5 968.9,1475.7Z"/></clipPath>
<g clip-path="url(#c33)">
<path d="M966.6,1474.5 979.1,1465.5 982.5,1458.6 981.4,1453.0 990.5,1449.5 999.5,1451.8 1004.1,1445.0 1006.4,1438.2 1013.2,1437.0 1020.0,1429.1 1031.4,1424.5 1035.9,1426.8 1040.5,1429.1 1047.3,1424.5 1051.8,1415.5 1056.4,1413.2 1060.9,1406.4 1058.6,1392.7 1055.2,1379.1 1063.2,1372.3 1068.9,1376.8 1072.3,1381.4 1081.4,1376.8 1092.7,1370.0 1104.1,1365.5 1113.2,1356.4 1117.7,1342.7 1126.8,1332.5 1138.2,1328.0 1145.0,1329.5 1149.5,1338.2 1150.7,1351.8 1160.9,1354.1 1162.0,1357.5 1157.5,1360.9 1155.2,1370.0 1151.8,1379.1 1149.5,1388.2 1151.8,1397.3 1153.0,1410.9 1145.0,1416.6 1133.6,1417.7 1122.3,1417.7 1113.2,1420.0 1101.8,1418.9 1091.6,1416.6 1087.0,1421.1 1089.3,1433.6 1090.5,1447.3 1087.0,1456.4 1082.5,1465.5 1081.4,1472.3 1065.5,1470.0 1054.1,1467.7 1047.3,1458.6 1031.4,1458.6 1023.4,1459.8 1013.2,1467.7 1001.8,1470.0 990.5,1473.4 987.0,1475.7 983.6,1471.1 976.8,1474.5 968.9,1475.7Z" fill="#3a8a90"/>
<path d="M963.2,1429.1 1020.0,1429.1 1024.5,1458.6 1013.2,1470.0 963.2,1479.1Z" fill="#3d7a95"/>
<path d="M1022.3,1433.6 1042.7,1429.1 1063.2,1424.5 1081.4,1429.1 1090.5,1442.7 1085.9,1474.5 1051.8,1467.7 1045.0,1458.6 1026.8,1458.6Z" fill="#5cd07e"/>
<path d="M1013.2,1429.1 1031.4,1422.3 1035.9,1429.1 1026.8,1449.5 1017.7,1447.3Z" fill="#c8e040"/>
<path d="M1042.7,1415.5 1058.6,1410.9 1072.3,1417.7 1067.7,1429.1 1049.5,1433.6 1042.7,1429.1Z" fill="#430e62"/>
<path d="M1090.5,1326.8 1163.2,1326.8 1163.2,1376.8 1142.7,1379.1 1124.5,1383.6 1110.9,1392.7 1104.1,1392.7 1092.7,1376.8Z" fill="#430e62"/>
<path d="M1068.9,1376.8 1085.9,1374.5 1092.7,1376.8 1092.7,1397.3 1081.4,1397.3 1072.3,1392.7Z" fill="#430e62"/>
<path d="M1081.4,1376.8 1095.0,1374.5 1104.1,1392.7 1108.6,1397.3 1099.5,1406.4 1085.9,1410.9 1079.1,1397.3Z" fill="#edf041"/>
<path d="M1122.3,1351.8 1149.5,1351.8 1156.4,1360.9 1154.1,1376.8 1131.4,1379.1 1124.5,1367.7Z" fill="#3f6497"/>
<path d="M1108.6,1393.9 1124.5,1383.6 1142.7,1379.1 1154.1,1383.6 1154.1,1417.7 1092.7,1417.7 1101.8,1406.4Z" fill="#3c7b92"/>
<path d="M1138.2,1388.2 1154.1,1388.2 1154.1,1410.9 1142.7,1415.5Z" fill="#430e62"/>
</g>
<clipPath id="c34"><path d="M1101.4,1477.3 1104.1,1465.9 1117.7,1451.8 1131.8,1435.5 1140.9,1442.7 1143.2,1451.8 1155.2,1455.9 1156.8,1468.2 1147.7,1472.7 1141.8,1488.6 1123.4,1488.6 1105.9,1503.0 1101.4,1497.3Z"/></clipPath>
<g clip-path="url(#c34)">
<path d="M1101.4,1477.3 1104.1,1465.9 1117.7,1451.8 1131.8,1435.5 1140.9,1442.7 1143.2,1451.8 1155.2,1455.9 1156.8,1468.2 1147.7,1472.7 1141.8,1488.6 1123.4,1488.6 1105.9,1503.0 1101.4,1497.3Z" fill="#430e62"/>
<path d="M1133.6,1449.5 1142.7,1451.8 1156.4,1456.4 1156.4,1468.9 1145.0,1472.3 1135.9,1463.2Z" fill="#edf041"/>
<path d="M1097.3,1479.1 1117.7,1474.5 1126.8,1481.4 1124.5,1490.5 1106.4,1504.1Z" fill="#3f7396"/>
</g>
<clipPath id="c35"><path d="M1164.3,1450.7 1167.7,1433.6 1172.3,1430.2 1181.4,1424.5 1190.5,1410.9 1195.0,1399.5 1200.7,1392.7 1206.4,1388.2 1210.9,1379.1 1224.5,1370.0 1235.9,1367.7 1242.7,1370.0 1249.5,1367.7 1258.6,1365.5 1270.0,1358.6 1281.4,1356.4 1285.9,1360.9 1295.0,1363.2 1299.5,1367.7 1306.4,1365.5 1308.6,1360.9 1322.3,1351.8 1326.8,1346.8 1331.4,1356.4 1331.4,1362.0 1322.3,1365.5 1313.2,1371.1 1308.6,1376.8 1299.5,1392.7 1295.0,1401.8 1288.2,1407.5 1292.7,1413.2 1296.1,1417.7 1290.5,1426.8 1281.4,1433.6 1272.3,1435.9 1258.6,1433.6 1247.3,1430.2 1240.5,1435.9 1233.6,1443.9 1229.1,1451.8 1222.3,1462.0 1215.5,1459.1 1208.6,1456.8 1201.8,1453.0 1195.0,1450.7 1185.9,1451.8 1176.8,1454.5 1170.0,1454.5Z"/></clipPath>
<g clip-path="url(#c35)">
<path d="M1164.3,1450.7 1167.7,1433.6 1172.3,1430.2 1181.4,1424.5 1190.5,1410.9 1195.0,1399.5 1200.7,1392.7 1206.4,1388.2 1210.9,1379.1 1224.5,1370.0 1235.9,1367.7 1242.7,1370.0 1249.5,1367.7 1258.6,1365.5 1270.0,1358.6 1281.4,1356.4 1285.9,1360.9 1295.0,1363.2 1299.5,1367.7 1306.4,1365.5 1308.6,1360.9 1322.3,1351.8 1326.8,1346.8 1331.4,1356.4 1331.4,1362.0 1322.3,1365.5 1313.2,1371.1 1308.6,1376.8 1299.5,1392.7 1295.0,1401.8 1288.2,1407.5 1292.7,1413.2 1296.1,1417.7 1290.5,1426.8 1281.4,1433.6 1272.3,1435.9 1258.6,1433.6 1247.3,1430.2 1240.5,1435.9 1233.6,1443.9 1229.1,1451.8 1222.3,1462.0 1215.5,1459.1 1208.6,1456.8 1201.8,1453.0 1195.0,1450.7 1185.9,1451.8 1176.8,1454.5 1170.0,1454.5Z" fill="#430e62"/>
<path d="M1208.6,1379.1 1224.5,1367.7 1235.9,1365.5 1242.7,1374.5 1254.1,1383.6 1247.3,1392.7 1229.1,1392.7 1210.9,1390.5Z" fill="#edf041"/>
<path d="M1242.7,1370.0 1258.6,1363.2 1270.0,1356.4 1281.4,1354.1 1285.9,1360.9 1299.5,1367.7 1295.0,1381.4 1279.1,1383.6 1260.9,1379.1 1247.3,1376.8Z" fill="#3a8a90"/>
<path d="M1163.2,1451.8 1181.4,1424.5 1190.5,1410.9 1199.5,1401.8 1206.4,1415.5 1199.5,1429.1 1195.0,1442.7 1181.4,1451.8Z" fill="#3a9a8c"/>
<path d="M1206.4,1429.1 1217.7,1415.5 1226.8,1429.1 1238.2,1433.6 1231.4,1442.7 1217.7,1451.8 1208.6,1456.4 1199.5,1449.5Z" fill="#edf041"/>
<path d="M1217.7,1392.7 1231.4,1397.3 1229.1,1410.9 1217.7,1415.5 1210.9,1406.4Z" fill="#3f6497"/>
<path d="M1249.5,1406.4 1267.7,1401.8 1276.8,1415.5 1267.7,1426.8 1254.1,1426.8Z" fill="#3f5f97"/>
<path d="M1283.6,1376.8 1299.5,1367.7 1313.2,1365.5 1331.4,1360.9 1322.3,1376.8 1313.2,1392.7 1304.1,1401.8 1290.5,1406.4 1285.9,1397.3Z" fill="#a8e048"/>
<path d="M1306.4,1365.5 1322.3,1351.8 1328.0,1345.0 1333.6,1356.4 1331.4,1362.0 1322.3,1365.5 1313.2,1371.1Z" fill="#3f5597"/>
<path d="M1263.2,1397.3 1270.0,1397.3 1272.3,1406.4 1265.5,1408.6Z" fill="#edf041"/>
</g>
<clipPath id="c36"><path d="M1310.9,1415.5 1317.7,1399.5 1329.1,1388.2 1340.5,1387.7 1345.5,1395.5 1331.4,1406.4 1320.0,1416.6Z"/></clipPath>
<g clip-path="url(#c36)">
<path d="M1310.9,1415.5 1317.7,1399.5 1329.1,1388.2 1340.5,1387.7 1345.5,1395.5 1331.4,1406.4 1320.0,1416.6Z" fill="#edf041"/>
</g>
<path d="M1123.4,1397.3 1133.6,1384.8 1143.9,1383.6 1145.5,1390.5 1140.9,1406.4 1134.8,1412.0 1124.5,1409.1ZM1068.9,1429.1 1081.4,1426.8 1083.6,1438.2 1076.8,1447.3 1070.0,1442.7Z" fill="#ffffff"/>
<clipPath id="c37"><path d="M1451.1,1474.5 1463.6,1465.5 1467.0,1458.6 1465.9,1453.0 1475.0,1449.5 1484.0,1451.8 1488.6,1445.0 1490.9,1438.2 1497.7,1437.0 1504.5,1429.1 1515.9,1424.5 1520.4,1426.8 1525.0,1429.1 1531.8,1424.5 1536.3,1415.5 1540.9,1413.2 1545.4,1406.4 1543.1,1392.7 1539.7,1379.1 1547.7,1372.3 1553.4,1376.8 1556.8,1381.4 1565.9,1376.8 1577.2,1370.0 1588.6,1365.5 1597.7,1356.4 1602.2,1342.7 1611.3,1332.5 1622.7,1328.0 1629.5,1329.5 1634.0,1338.2 1635.2,1351.8 1645.4,1354.1 1646.5,1357.5 1642.0,1360.9 1639.7,1370.0 1636.3,1379.1 1634.0,1388.2 1636.3,1397.3 1637.5,1410.9 1629.5,1416.6 1618.1,1417.7 1606.8,1417.7 1597.7,1420.0 1586.3,1418.9 1576.1,1416.6 1571.5,1421.1 1573.8,1433.6 1575.0,1447.3 1571.5,1456.4 1567.0,1465.5 1565.9,1472.3 1550.0,1470.0 1538.6,1467.7 1531.8,1458.6 1515.9,1458.6 1507.9,1459.8 1497.7,1467.7 1486.3,1470.0 1475.0,1473.4 1471.5,1475.7 1468.1,1471.1 1461.3,1474.5 1453.4,1475.7Z"/></clipPath>
<g clip-path="url(#c37)">
<path d="M1451.1,1474.5 1463.6,1465.5 1467.0,1458.6 1465.9,1453.0 1475.0,1449.5 1484.0,1451.8 1488.6,1445.0 1490.9,1438.2 1497.7,1437.0 1504.5,1429.1 1515.9,1424.5 1520.4,1426.8 1525.0,1429.1 1531.8,1424.5 1536.3,1415.5 1540.9,1413.2 1545.4,1406.4 1543.1,1392.7 1539.7,1379.1 1547.7,1372.3 1553.4,1376.8 1556.8,1381.4 1565.9,1376.8 1577.2,1370.0 1588.6,1365.5 1597.7,1356.4 1602.2,1342.7 1611.3,1332.5 1622.7,1328.0 1629.5,1329.5 1634.0,1338.2 1635.2,1351.8 1645.4,1354.1 1646.5,1357.5 1642.0,1360.9 1639.7,1370.0 1636.3,1379.1 1634.0,1388.2 1636.3,1397.3 1637.5,1410.9 1629.5,1416.6 1618.1,1417.7 1606.8,1417.7 1597.7,1420.0 1586.3,1418.9 1576.1,1416.6 1571.5,1421.1 1573.8,1433.6 1575.0,1447.3 1571.5,1456.4 1567.0,1465.5 1565.9,1472.3 1550.0,1470.0 1538.6,1467.7 1531.8,1458.6 1515.9,1458.6 1507.9,1459.8 1497.7,1467.7 1486.3,1470.0 1475.0,1473.4 1471.5,1475.7 1468.1,1471.1 1461.3,1474.5 1453.4,1475.7Z" fill="#3a9a8c"/>
<path d="M1574.1,1326.8 1651.4,1326.8 1651.4,1379.1 1626.4,1379.1 1615.0,1376.8 1601.4,1376.8 1587.7,1376.8 1574.1,1379.1Z" fill="#430e62"/>
<path d="M1553.6,1381.4 1574.1,1376.8 1576.4,1388.2 1562.7,1392.7 1555.9,1388.2Z" fill="#430e62"/>
<path d="M1553.6,1390.5 1574.1,1388.2 1578.6,1376.8 1587.7,1388.2 1583.2,1406.4 1574.1,1415.5 1555.9,1417.7Z" fill="#edf041"/>
<path d="M1540.0,1370.0 1555.9,1372.3 1555.9,1417.7 1542.3,1415.5Z" fill="#3a8a90"/>
<path d="M1583.2,1397.3 1596.8,1379.1 1615.0,1376.8 1615.0,1392.7 1608.2,1410.9 1605.9,1420.0 1587.7,1417.7Z" fill="#40468f"/>
<path d="M1612.7,1383.6 1642.3,1383.6 1642.3,1417.7 1612.7,1417.7Z" fill="#3a8a90"/>
<path d="M1496.8,1429.1 1533.2,1429.1 1533.2,1456.4 1501.4,1456.4Z" fill="#3d6a95"/>
<path d="M1528.6,1410.9 1542.3,1406.4 1542.3,1451.8 1528.6,1451.8Z" fill="#404a90"/>
</g>
<clipPath id="c38"><path d="M1585.9,1477.3 1588.6,1465.9 1602.2,1451.8 1616.3,1435.5 1625.4,1442.7 1627.7,1451.8 1639.7,1455.9 1641.3,1468.2 1632.2,1472.7 1626.3,1488.6 1607.9,1488.6 1590.4,1503.0 1585.9,1497.3Z"/></clipPath>
<g clip-path="url(#c38)">
<path d="M1585.9,1477.3 1588.6,1465.9 1602.2,1451.8 1616.3,1435.5 1625.4,1442.7 1627.7,1451.8 1639.7,1455.9 1641.3,1468.2 1632.2,1472.7 1626.3,1488.6 1607.9,1488.6 1590.4,1503.0 1585.9,1497.3Z" fill="#430e62"/>
<path d="M1583.2,1465.5 1619.5,1460.9 1624.1,1488.2 1590.0,1504.1Z" fill="#433f8f"/>
<path d="M1619.5,1451.8 1642.3,1456.4 1642.3,1470.0 1621.8,1470.0Z" fill="#3a7f92"/>
</g>
<clipPath id="c39"><path d="M1648.8,1450.7 1652.2,1433.6 1656.8,1430.2 1665.9,1424.5 1675.0,1410.9 1679.5,1399.5 1685.2,1392.7 1690.9,1388.2 1695.4,1379.1 1709.0,1370.0 1720.4,1367.7 1727.2,1370.0 1734.0,1367.7 1743.1,1365.5 1754.5,1358.6 1765.9,1356.4 1770.4,1360.9 1779.5,1363.2 1784.0,1367.7 1790.9,1365.5 1793.1,1360.9 1806.8,1351.8 1811.3,1346.8 1815.9,1356.4 1815.9,1362.0 1806.8,1365.5 1797.7,1371.1 1793.1,1376.8 1784.0,1392.7 1779.5,1401.8 1772.7,1407.5 1777.2,1413.2 1780.6,1417.7 1775.0,1426.8 1765.9,1433.6 1756.8,1435.9 1743.1,1433.6 1731.8,1430.2 1725.0,1435.9 1718.1,1443.9 1713.6,1451.8 1706.8,1462.0 1700.0,1459.1 1693.1,1456.8 1686.3,1453.0 1679.5,1450.7 1670.4,1451.8 1661.3,1454.5 1654.5,1454.5Z"/></clipPath>
<g clip-path="url(#c39)">
<path d="M1648.8,1450.7 1652.2,1433.6 1656.8,1430.2 1665.9,1424.5 1675.0,1410.9 1679.5,1399.5 1685.2,1392.7 1690.9,1388.2 1695.4,1379.1 1709.0,1370.0 1720.4,1367.7 1727.2,1370.0 1734.0,1367.7 1743.1,1365.5 1754.5,1358.6 1765.9,1356.4 1770.4,1360.9 1779.5,1363.2 1784.0,1367.7 1790.9,1365.5 1793.1,1360.9 1806.8,1351.8 1811.3,1346.8 1815.9,1356.4 1815.9,1362.0 1806.8,1365.5 1797.7,1371.1 1793.1,1376.8 1784.0,1392.7 1779.5,1401.8 1772.7,1407.5 1777.2,1413.2 1780.6,1417.7 1775.0,1426.8 1765.9,1433.6 1756.8,1435.9 1743.1,1433.6 1731.8,1430.2 1725.0,1435.9 1718.1,1443.9 1713.6,1451.8 1706.8,1462.0 1700.0,1459.1 1693.1,1456.8 1686.3,1453.0 1679.5,1450.7 1670.4,1451.8 1661.3,1454.5 1654.5,1454.5Z" fill="#430e62"/>
<path d="M1694.5,1390.5 1717.3,1365.5 1742.3,1388.2 1737.7,1393.9 1696.8,1393.9Z" fill="#3fae8b"/>
<path d="M1790.0,1360.9 1810.5,1345.0 1819.5,1356.4 1815.0,1365.5 1801.4,1370.0 1792.3,1370.0Z" fill="#3fa08b"/>
<path d="M1769.5,1367.7 1805.9,1365.5 1810.5,1383.6 1801.4,1397.3 1783.2,1410.9 1769.5,1406.4Z" fill="#40468f"/>
<path d="M1737.7,1397.3 1760.5,1392.7 1769.5,1406.4 1765.0,1426.8 1740.0,1426.8Z" fill="#433f8f"/>
<path d="M1669.5,1401.8 1687.7,1397.3 1701.4,1406.4 1719.5,1415.5 1730.9,1424.5 1728.6,1442.7 1710.5,1447.3 1687.7,1447.3 1669.5,1429.1Z" fill="#3d7e92"/>
<path d="M1678.6,1442.7 1694.5,1429.1 1701.4,1410.9 1708.2,1424.5 1710.5,1433.6 1703.6,1445.0 1694.5,1458.6 1680.9,1456.4Z" fill="#edf041"/>
<path d="M1694.5,1429.1 1703.6,1429.1 1703.6,1440.5 1694.5,1440.5Z" fill="#6ad870"/>
</g>
<clipPath id="c40"><path d="M1795.4,1415.5 1802.2,1399.5 1813.6,1388.2 1825.0,1387.7 1830.0,1395.5 1815.9,1406.4 1804.5,1416.6Z"/></clipPath>
<g clip-path="url(#c40)">
<path d="M1795.4,1415.5 1802.2,1399.5 1813.6,1388.2 1825.0,1387.7 1830.0,1395.5 1815.9,1406.4 1804.5,1416.6Z" fill="#edf041"/>
</g>
<path d="M1607.9,1397.3 1618.1,1384.8 1628.4,1383.6 1630.0,1390.5 1625.4,1406.4 1619.3,1412.0 1609.0,1409.1ZM1553.4,1429.1 1565.9,1426.8 1568.1,1438.2 1561.3,1447.3 1554.5,1442.7Z" fill="#ffffff"/>
<clipPath id="c41"><path d="M711.7,1694.5 719.2,1688.6 725.1,1686.1 735.1,1682.8 741.8,1679.4 744.3,1676.1 758.5,1674.4 767.7,1673.6 780.3,1672.7 792.0,1669.4 800.3,1666.0 808.7,1661.0 815.4,1654.3 819.0,1648.6 824.8,1634.3 833.3,1642.9 841.9,1650.5 839.0,1656.2 837.1,1660.2 837.9,1668.5 848.8,1669.3 852.2,1674.4 853.0,1684.4 847.2,1687.8 835.4,1689.4 833.7,1699.4 818.7,1699.4 818.7,1728.8 812.0,1729.5 811.2,1724.6 800.4,1712.8 787.0,1699.4 780.2,1694.5 779.4,1697.7 783.6,1706.1 786.1,1712.8 782.9,1720.4 772.8,1728.8 771.0,1727.8 765.1,1717.9 761.9,1717.9 757.4,1720.3 757.4,1737.3 743.9,1737.5 752.7,1752.5 757.6,1737.7 760.4,1737.8 760.4,1749.5 759.3,1756.9 755.6,1778.8 751.0,1795.6 748.5,1799.8 746.0,1798.1 745.6,1774.7 740.1,1773.1 740.1,1757.2 726.8,1757.2 725.9,1742.9 712.6,1742.9Z"/></clipPath>
<g clip-path="url(#c41)">
<path d="M711.7,1694.5 719.2,1688.6 725.1,1686.1 735.1,1682.8 741.8,1679.4 744.3,1676.1 758.5,1674.4 767.7,1673.6 780.3,1672.7 792.0,1669.4 800.3,1666.0 808.7,1661.0 815.4,1654.3 819.0,1648.6 824.8,1634.3 833.3,1642.9 841.9,1650.5 839.0,1656.2 837.1,1660.2 837.9,1668.5 848.8,1669.3 852.2,1674.4 853.0,1684.4 847.2,1687.8 835.4,1689.4 833.7,1699.4 818.7,1699.4 818.7,1728.8 812.0,1729.5 811.2,1724.6 800.4,1712.8 787.0,1699.4 780.2,1694.5 779.4,1697.7 783.6,1706.1 786.1,1712.8 782.9,1720.4 772.8,1728.8 771.0,1727.8 765.1,1717.9 761.9,1717.9 757.4,1720.3 757.4,1737.3 743.9,1737.5 752.7,1752.5 757.6,1737.7 760.4,1737.8 760.4,1749.5 759.3,1756.9 755.6,1778.8 751.0,1795.6 748.5,1799.8 746.0,1798.1 745.6,1774.7 740.1,1773.1 740.1,1757.2 726.8,1757.2 725.9,1742.9 712.6,1742.9Z" fill="#3a8a90"/>
<path d="M769.5,1652.6 830.5,1627.9 830.5,1726.9 811.4,1726.9 796.2,1704.0 784.8,1690.7 771.4,1692.6Z" fill="#e0e63c"/>
<path d="M798.1,1667.9 811.4,1666.0 817.1,1681.2 811.4,1704.0 801.9,1696.4Z" fill="#b8e040"/>
<path d="M822.9,1650.7 843.8,1646.9 855.2,1667.9 855.2,1685.0 834.3,1700.2 826.7,1688.8Z" fill="#45b08a"/>
<path d="M752.4,1692.6 769.5,1692.6 784.8,1704.0 784.8,1711.7 773.3,1723.1 758.1,1719.3 752.4,1707.9Z" fill="#c8e43c"/>
<path d="M769.5,1707.9 784.8,1704.0 784.8,1723.1 773.3,1725.0Z" fill="#7ad860"/>
<path d="M716.2,1723.1 731.4,1719.3 744.8,1717.4 754.3,1723.1 754.3,1738.3 746.7,1746.0 735.2,1749.8 721.9,1738.3Z" fill="#d8e43c"/>
<path d="M725.7,1746.0 746.7,1746.0 748.6,1757.4 742.9,1765.0 727.6,1757.4Z" fill="#58c880"/>
<path d="M742.9,1742.1 761.9,1738.3 760.0,1757.4 750.5,1797.4 742.9,1761.2Z" fill="#b8e040"/>
<path d="M716.2,1681.2 739.0,1679.3 752.4,1677.4 746.7,1686.0 720.0,1689.8Z" fill="#c8e040"/>
</g>
<clipPath id="c42"><path d="M794.3,1751.4 801.0,1743.8 806.7,1738.1 818.1,1737.2 819.0,1755.3 810.5,1763.8 797.1,1762.9Z"/></clipPath>
<g clip-path="url(#c42)">
<path d="M794.3,1751.4 801.0,1743.8 806.7,1738.1 818.1,1737.2 819.0,1755.3 810.5,1763.8 797.1,1762.9Z" fill="#3d7a96"/>
</g>
<clipPath id="c43"><path d="M682.9,1787.6 689.5,1785.7 690.5,1774.3 697.1,1774.3 698.1,1785.7 703.8,1797.2 700.0,1800.0 696.2,1802.9 698.1,1841.0 707.6,1831.4 719.0,1829.5 728.6,1821.9 734.3,1814.3 738.1,1812.4 743.8,1816.2 751.4,1816.2 753.3,1823.8 759.0,1824.8 753.3,1827.6 753.3,1852.4 749.5,1856.2 730.5,1858.1 719.0,1860.0 717.1,1865.7 722.9,1867.6 723.8,1873.3 719.0,1877.2 719.0,1900.0 721.0,1911.4 719.0,1926.7 720.0,1953.3 717.1,1955.3 713.3,1938.1 712.4,1890.5 696.2,1884.8 701.9,1871.4 703.8,1861.9 696.2,1856.2 682.9,1850.5Z"/></clipPath>
<g clip-path="url(#c43)">
<path d="M682.9,1787.6 689.5,1785.7 690.5,1774.3 697.1,1774.3 698.1,1785.7 703.8,1797.2 700.0,1800.0 696.2,1802.9 698.1,1841.0 707.6,1831.4 719.0,1829.5 728.6,1821.9 734.3,1814.3 738.1,1812.4 743.8,1816.2 751.4,1816.2 753.3,1823.8 759.0,1824.8 753.3,1827.6 753.3,1852.4 749.5,1856.2 730.5,1858.1 719.0,1860.0 717.1,1865.7 722.9,1867.6 723.8,1873.3 719.0,1877.2 719.0,1900.0 721.0,1911.4 719.0,1926.7 720.0,1953.3 717.1,1955.3 713.3,1938.1 712.4,1890.5 696.2,1884.8 701.9,1871.4 703.8,1861.9 696.2,1856.2 682.9,1850.5Z" fill="#3a7f92"/>
<path d="M693.3,1833.6 729.5,1827.9 729.5,1860.2 701.0,1862.1Z" fill="#45b08a"/>
<path d="M693.3,1860.2 725.7,1858.3 725.7,1959.3 693.3,1959.3Z" fill="#414694"/>
</g>
<clipPath id="c44"><path d="M1152.7,1689.4 1160.2,1683.5 1166.1,1681.0 1176.1,1677.7 1182.8,1674.3 1185.3,1671.0 1199.5,1669.3 1208.7,1668.5 1221.3,1667.6 1233.0,1664.3 1241.3,1660.9 1249.7,1655.9 1256.4,1649.2 1260.0,1643.5 1265.8,1629.2 1274.3,1637.8 1282.9,1645.4 1280.0,1651.1 1278.1,1655.1 1278.9,1663.4 1289.8,1664.2 1293.2,1669.3 1294.0,1679.3 1288.2,1682.7 1276.4,1684.3 1274.7,1694.3 1259.7,1694.3 1259.7,1723.7 1253.0,1724.4 1252.2,1719.5 1241.4,1707.7 1228.0,1694.3 1221.2,1689.4 1220.4,1692.6 1224.6,1701.0 1227.1,1707.7 1223.9,1715.3 1213.8,1723.7 1212.0,1722.7 1206.1,1712.8 1202.9,1712.8 1198.4,1715.2 1198.4,1732.2 1184.9,1732.4 1193.7,1747.4 1198.6,1732.6 1201.4,1732.7 1201.4,1744.4 1200.3,1751.8 1196.6,1773.7 1192.0,1790.5 1189.5,1794.7 1187.0,1793.0 1186.6,1769.6 1181.1,1768.0 1181.1,1752.1 1167.8,1752.1 1166.9,1737.8 1153.6,1737.8Z"/></clipPath>
<g clip-path="url(#c44)">
<path d="M1152.7,1689.4 1160.2,1683.5 1166.1,1681.0 1176.1,1677.7 1182.8,1674.3 1185.3,1671.0 1199.5,1669.3 1208.7,1668.5 1221.3,1667.6 1233.0,1664.3 1241.3,1660.9 1249.7,1655.9 1256.4,1649.2 1260.0,1643.5 1265.8,1629.2 1274.3,1637.8 1282.9,1645.4 1280.0,1651.1 1278.1,1655.1 1278.9,1663.4 1289.8,1664.2 1293.2,1669.3 1294.0,1679.3 1288.2,1682.7 1276.4,1684.3 1274.7,1694.3 1259.7,1694.3 1259.7,1723.7 1253.0,1724.4 1252.2,1719.5 1241.4,1707.7 1228.0,1694.3 1221.2,1689.4 1220.4,1692.6 1224.6,1701.0 1227.1,1707.7 1223.9,1715.3 1213.8,1723.7 1212.0,1722.7 1206.1,1712.8 1202.9,1712.8 1198.4,1715.2 1198.4,1732.2 1184.9,1732.4 1193.7,1747.4 1198.6,1732.6 1201.4,1732.7 1201.4,1744.4 1200.3,1751.8 1196.6,1773.7 1192.0,1790.5 1189.5,1794.7 1187.0,1793.0 1186.6,1769.6 1181.1,1768.0 1181.1,1752.1 1167.8,1752.1 1166.9,1737.8 1153.6,1737.8Z" fill="#3fa08b"/>
<path d="M1151.0,1675.5 1185.2,1671.7 1187.1,1690.7 1173.8,1700.2 1151.0,1700.2Z" fill="#42307f"/>
<path d="M1151.0,1700.2 1173.8,1700.2 1181.4,1707.9 1179.5,1719.3 1158.6,1719.3 1151.0,1711.7Z" fill="#40b38b"/>
<path d="M1160.5,1704.0 1170.0,1702.1 1173.8,1711.7 1166.2,1715.5Z" fill="#3f6ba0"/>
<path d="M1156.7,1717.4 1170.0,1713.6 1177.6,1717.4 1189.0,1713.6 1192.9,1719.3 1189.0,1726.9 1177.6,1734.5 1166.2,1736.4 1156.7,1728.8Z" fill="#edf041"/>
<path d="M1166.2,1734.5 1181.4,1730.7 1192.9,1726.9 1196.7,1738.3 1189.0,1749.8 1181.4,1757.4 1170.0,1749.8Z" fill="#a8e048"/>
<path d="M1185.2,1667.9 1215.7,1666.0 1217.6,1677.4 1211.9,1690.7 1196.7,1688.8 1187.1,1685.0Z" fill="#3d7a96"/>
<path d="M1192.9,1685.0 1211.9,1685.0 1223.3,1690.7 1227.1,1711.7 1219.5,1717.4 1208.1,1713.6 1196.7,1704.0Z" fill="#a8e048"/>
<path d="M1211.9,1706.0 1221.4,1704.0 1223.3,1715.5 1213.8,1717.4Z" fill="#3f4f95"/>
<path d="M1221.4,1664.0 1240.5,1660.2 1240.5,1685.0 1231.0,1688.8 1223.3,1686.9Z" fill="#edf041"/>
<path d="M1234.8,1667.9 1251.9,1666.0 1255.7,1681.2 1253.8,1711.7 1246.2,1711.7 1238.6,1696.4Z" fill="#3fa08b"/>
<path d="M1251.9,1656.4 1265.2,1626.0 1272.9,1635.5 1272.9,1662.1 1267.1,1688.8 1263.3,1723.1 1253.8,1723.1 1251.9,1690.7 1257.6,1671.7Z" fill="#edf041"/>
<path d="M1261.4,1662.1 1278.6,1662.1 1280.5,1688.8 1271.0,1694.5 1263.3,1688.8Z" fill="#a8e048"/>
<path d="M1272.9,1635.5 1286.2,1645.0 1295.7,1664.0 1297.6,1681.2 1280.5,1688.8 1278.6,1662.1 1272.9,1652.6Z" fill="#3d7a96"/>
</g>
<clipPath id="c45"><path d="M1235.3,1746.3 1242.0,1738.7 1247.7,1733.0 1259.1,1732.1 1260.0,1750.2 1251.5,1758.7 1238.1,1757.8Z"/></clipPath>
<g clip-path="url(#c45)">
<path d="M1235.3,1746.3 1242.0,1738.7 1247.7,1733.0 1259.1,1732.1 1260.0,1750.2 1251.5,1758.7 1238.1,1757.8Z" fill="#d8e43c"/>
</g>
<clipPath id="c46"><path d="M1123.9,1782.5 1130.5,1780.6 1131.5,1769.2 1138.1,1769.2 1139.1,1780.6 1144.8,1792.1 1141.0,1794.9 1137.2,1797.8 1139.1,1835.9 1148.6,1826.3 1160.0,1824.4 1169.6,1816.8 1175.3,1809.2 1179.1,1807.3 1184.8,1811.1 1192.4,1811.1 1194.3,1818.7 1200.0,1819.7 1194.3,1822.5 1194.3,1847.3 1190.5,1851.1 1171.5,1853.0 1160.0,1854.9 1158.1,1860.6 1163.9,1862.5 1164.8,1868.2 1160.0,1872.1 1160.0,1894.9 1162.0,1906.3 1160.0,1921.6 1161.0,1948.2 1158.1,1950.2 1154.3,1933.0 1153.4,1885.4 1137.2,1879.7 1142.9,1866.3 1144.8,1856.8 1137.2,1851.1 1123.9,1845.4Z"/></clipPath>
<g clip-path="url(#c46)">
<path d="M1123.9,1782.5 1130.5,1780.6 1131.5,1769.2 1138.1,1769.2 1139.1,1780.6 1144.8,1792.1 1141.0,1794.9 1137.2,1797.8 1139.1,1835.9 1148.6,1826.3 1160.0,1824.4 1169.6,1816.8 1175.3,1809.2 1179.1,1807.3 1184.8,1811.1 1192.4,1811.1 1194.3,1818.7 1200.0,1819.7 1194.3,1822.5 1194.3,1847.3 1190.5,1851.1 1171.5,1853.0 1160.0,1854.9 1158.1,1860.6 1163.9,1862.5 1164.8,1868.2 1160.0,1872.1 1160.0,1894.9 1162.0,1906.3 1160.0,1921.6 1161.0,1948.2 1158.1,1950.2 1154.3,1933.0 1153.4,1885.4 1137.2,1879.7 1142.9,1866.3 1144.8,1856.8 1137.2,1851.1 1123.9,1845.4Z" fill="#3a7a92"/>
<path d="M1120.5,1765.0 1147.1,1765.0 1147.1,1795.5 1120.5,1795.5Z" fill="#443e8f"/>
<path d="M1166.2,1801.2 1204.3,1801.2 1204.3,1852.6 1166.2,1852.6Z" fill="#433f8f"/>
<path d="M1135.7,1833.6 1154.8,1829.8 1154.8,1852.6 1135.7,1852.6Z" fill="#3f5a98"/>
</g>
<clipPath id="c47"><path d="M1631.7,1685.2 1639.2,1679.3 1645.1,1676.8 1655.1,1673.5 1661.8,1670.1 1664.3,1666.8 1678.5,1665.1 1687.7,1664.3 1700.3,1663.4 1712.0,1660.1 1720.3,1656.7 1728.7,1651.7 1735.4,1645.0 1739.0,1639.3 1744.8,1625.0 1753.3,1633.6 1761.9,1641.2 1759.0,1646.9 1757.1,1650.9 1757.9,1659.2 1768.8,1660.0 1772.2,1665.1 1773.0,1675.1 1767.2,1678.5 1755.4,1680.1 1753.7,1690.1 1738.7,1690.1 1738.7,1719.5 1732.0,1720.2 1731.2,1715.3 1720.4,1703.5 1707.0,1690.1 1700.2,1685.2 1699.4,1688.4 1703.6,1696.8 1706.1,1703.5 1702.9,1711.1 1692.8,1719.5 1691.0,1718.5 1685.1,1708.6 1681.9,1708.6 1677.4,1711.0 1677.4,1728.0 1663.9,1728.2 1672.7,1743.2 1677.6,1728.4 1680.4,1728.5 1680.4,1740.2 1679.3,1747.6 1675.6,1769.5 1671.0,1786.3 1668.5,1790.5 1666.0,1788.8 1665.6,1765.4 1660.1,1763.8 1660.1,1747.9 1646.8,1747.9 1645.9,1733.6 1632.6,1733.6Z"/></clipPath>
<g clip-path="url(#c47)">
<path d="M1631.7,1685.2 1639.2,1679.3 1645.1,1676.8 1655.1,1673.5 1661.8,1670.1 1664.3,1666.8 1678.5,1665.1 1687.7,1664.3 1700.3,1663.4 1712.0,1660.1 1720.3,1656.7 1728.7,1651.7 1735.4,1645.0 1739.0,1639.3 1744.8,1625.0 1753.3,1633.6 1761.9,1641.2 1759.0,1646.9 1757.1,1650.9 1757.9,1659.2 1768.8,1660.0 1772.2,1665.1 1773.0,1675.1 1767.2,1678.5 1755.4,1680.1 1753.7,1690.1 1738.7,1690.1 1738.7,1719.5 1732.0,1720.2 1731.2,1715.3 1720.4,1703.5 1707.0,1690.1 1700.2,1685.2 1699.4,1688.4 1703.6,1696.8 1706.1,1703.5 1702.9,1711.1 1692.8,1719.5 1691.0,1718.5 1685.1,1708.6 1681.9,1708.6 1677.4,1711.0 1677.4,1728.0 1663.9,1728.2 1672.7,1743.2 1677.6,1728.4 1680.4,1728.5 1680.4,1740.2 1679.3,1747.6 1675.6,1769.5 1671.0,1786.3 1668.5,1790.5 1666.0,1788.8 1665.6,1765.4 1660.1,1763.8 1660.1,1747.9 1646.8,1747.9 1645.9,1733.6 1632.6,1733.6Z" fill="#edf041"/>
<path d="M1629.5,1681.2 1631.7,1685.2 1639.2,1679.3 1645.1,1676.8 1655.1,1673.5 1661.8,1670.1 1665.1,1671.7 1665.7,1680.1 1661.8,1686.9 1655.1,1691.9 1645.1,1694.3 1631.7,1696.0 1629.5,1696.0Z" fill="#3a9a8c"/>
<path d="M1688.6,1664.0 1701.0,1664.0 1701.0,1671.7 1688.6,1671.7Z" fill="#2e2a8a"/>
</g>
<clipPath id="c48"><path d="M1714.3,1742.1 1721.0,1734.5 1726.7,1728.8 1738.1,1727.9 1739.0,1746.0 1730.5,1754.5 1717.1,1753.6Z"/></clipPath>
<g clip-path="url(#c48)">
<path d="M1714.3,1742.1 1721.0,1734.5 1726.7,1728.8 1738.1,1727.9 1739.0,1746.0 1730.5,1754.5 1717.1,1753.6Z" fill="#5fd070"/>
</g>
<clipPath id="c49"><path d="M1602.9,1778.3 1609.5,1776.4 1610.5,1765.0 1617.1,1765.0 1618.1,1776.4 1623.8,1787.9 1620.0,1790.7 1616.2,1793.6 1618.1,1831.7 1627.6,1822.1 1639.0,1820.2 1648.6,1812.6 1654.3,1805.0 1658.1,1803.1 1663.8,1806.9 1671.4,1806.9 1673.3,1814.5 1679.0,1815.5 1673.3,1818.3 1673.3,1843.1 1669.5,1846.9 1650.5,1848.8 1639.0,1850.7 1637.1,1856.4 1642.9,1858.3 1643.8,1864.0 1639.0,1867.9 1639.0,1890.7 1641.0,1902.1 1639.0,1917.4 1640.0,1944.0 1637.1,1946.0 1633.3,1928.8 1632.4,1881.2 1616.2,1875.5 1621.9,1862.1 1623.8,1852.6 1616.2,1846.9 1602.9,1841.2Z"/></clipPath>
<g clip-path="url(#c49)">
<path d="M1602.9,1778.3 1609.5,1776.4 1610.5,1765.0 1617.1,1765.0 1618.1,1776.4 1623.8,1787.9 1620.0,1790.7 1616.2,1793.6 1618.1,1831.7 1627.6,1822.1 1639.0,1820.2 1648.6,1812.6 1654.3,1805.0 1658.1,1803.1 1663.8,1806.9 1671.4,1806.9 1673.3,1814.5 1679.0,1815.5 1673.3,1818.3 1673.3,1843.1 1669.5,1846.9 1650.5,1848.8 1639.0,1850.7 1637.1,1856.4 1642.9,1858.3 1643.8,1864.0 1639.0,1867.9 1639.0,1890.7 1641.0,1902.1 1639.0,1917.4 1640.0,1944.0 1637.1,1946.0 1633.3,1928.8 1632.4,1881.2 1616.2,1875.5 1621.9,1862.1 1623.8,1852.6 1616.2,1846.9 1602.9,1841.2Z" fill="#edf041"/>
<path d="M1601.0,1789.8 1614.3,1789.8 1612.4,1841.2 1601.0,1841.2Z" fill="#5fd070"/>
<path d="M1646.7,1802.1 1661.9,1801.2 1673.3,1805.0 1681.0,1814.5 1671.4,1829.8 1646.7,1829.8Z" fill="#6ad870"/>
<path d="M1614.3,1848.8 1631.4,1848.8 1641.0,1852.6 1642.9,1947.9 1614.3,1947.9Z" fill="#3a9a8c"/>
</g></svg>
</body></html>
